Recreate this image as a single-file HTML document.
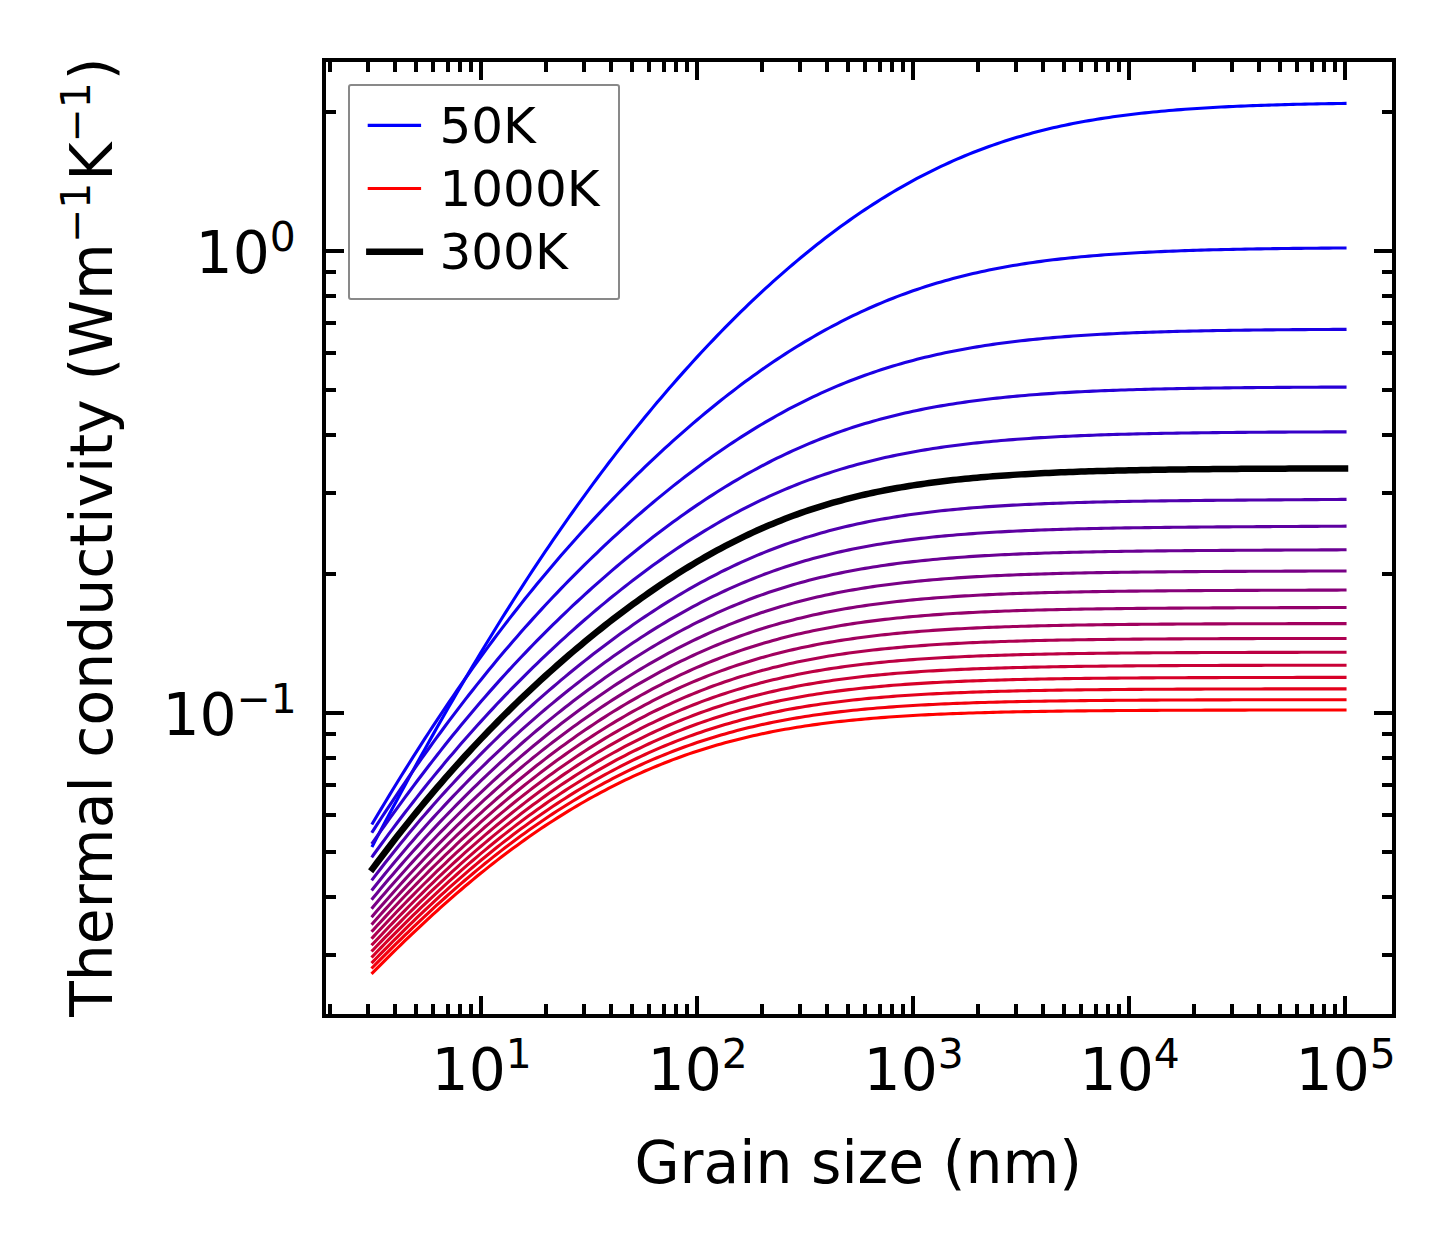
<!DOCTYPE html>
<html lang="en"><head><meta charset="utf-8"><title>Thermal conductivity vs grain size</title>
<style>html,body{margin:0;padding:0;background:#fff;overflow:hidden}svg{display:block}text{font-family:"DejaVu Sans", "Liberation Sans", sans-serif;fill:#000}</style></head><body>
<svg width="1454" height="1254" viewBox="0 0 1454 1254">
<rect x="0" y="0" width="1454" height="1254" fill="#fff"/>
<g fill="none" stroke-width="3.1" stroke-linecap="square" stroke-linejoin="round">
<path stroke="rgb(0,0,255)" d="M372.60 845.71 L373.00 844.95 L377.00 837.37 L381.00 829.81 L385.00 822.29 L389.00 814.80 L393.00 807.34 L397.00 799.92 L401.00 792.52 L405.00 785.16 L409.00 777.84 L413.00 770.55 L417.00 763.29 L421.00 756.07 L425.00 748.89 L429.00 741.74 L433.00 734.63 L437.00 727.55 L441.00 720.52 L445.00 713.52 L449.00 706.57 L453.00 699.65 L457.00 692.77 L461.00 685.93 L465.00 679.13 L469.00 672.37 L473.00 665.65 L477.00 658.98 L481.00 652.34 L485.00 645.75 L489.00 639.20 L493.00 632.69 L497.00 626.22 L501.00 619.79 L505.00 613.41 L509.00 607.07 L513.00 600.77 L517.00 594.52 L521.00 588.31 L525.00 582.14 L529.00 576.01 L533.00 569.93 L537.00 563.89 L541.00 557.90 L545.00 551.95 L549.00 546.04 L553.00 540.17 L557.00 534.35 L561.00 528.57 L565.00 522.83 L569.00 517.14 L573.00 511.49 L577.00 505.88 L581.00 500.32 L585.00 494.80 L589.00 489.32 L593.00 483.88 L597.00 478.49 L601.00 473.14 L605.00 467.83 L609.00 462.56 L613.00 457.34 L617.00 452.15 L621.00 447.01 L625.00 441.91 L629.00 436.86 L633.00 431.84 L637.00 426.87 L641.00 421.93 L645.00 417.04 L649.00 412.19 L653.00 407.38 L657.00 402.61 L661.00 397.88 L665.00 393.20 L669.00 388.55 L673.00 383.94 L677.00 379.38 L681.00 374.85 L685.00 370.36 L689.00 365.92 L693.00 361.51 L697.00 357.14 L701.00 352.82 L705.00 348.53 L709.00 344.28 L713.00 340.08 L717.00 335.91 L721.00 331.78 L725.00 327.69 L729.00 323.64 L733.00 319.63 L737.00 315.66 L741.00 311.73 L745.00 307.84 L749.00 303.98 L753.00 300.17 L757.00 296.40 L761.00 292.66 L765.00 288.97 L769.00 285.31 L773.00 281.70 L777.00 278.12 L781.00 274.59 L785.00 271.09 L789.00 267.63 L793.00 264.22 L797.00 260.84 L801.00 257.50 L805.00 254.21 L809.00 250.95 L813.00 247.73 L817.00 244.56 L821.00 241.42 L825.00 238.33 L829.00 235.27 L833.00 232.26 L837.00 229.29 L841.00 226.36 L845.00 223.47 L849.00 220.62 L853.00 217.81 L857.00 215.04 L861.00 212.31 L865.00 209.63 L869.00 206.98 L873.00 204.38 L877.00 201.82 L881.00 199.30 L885.00 196.82 L889.00 194.38 L893.00 191.99 L897.00 189.63 L901.00 187.32 L905.00 185.05 L909.00 182.81 L913.00 180.62 L917.00 178.47 L921.00 176.36 L925.00 174.29 L929.00 172.27 L933.00 170.28 L937.00 168.33 L941.00 166.42 L945.00 164.55 L949.00 162.72 L953.00 160.93 L957.00 159.18 L961.00 157.47 L965.00 155.79 L969.00 154.16 L973.00 152.56 L977.00 151.00 L981.00 149.47 L985.00 147.98 L989.00 146.53 L993.00 145.12 L997.00 143.73 L1001.00 142.39 L1005.00 141.08 L1009.00 139.80 L1013.00 138.56 L1017.00 137.35 L1021.00 136.17 L1025.00 135.02 L1029.00 133.91 L1033.00 132.82 L1037.00 131.77 L1041.00 130.75 L1045.00 129.75 L1049.00 128.79 L1053.00 127.85 L1057.00 126.94 L1061.00 126.06 L1065.00 125.21 L1069.00 124.38 L1073.00 123.58 L1077.00 122.80 L1081.00 122.05 L1085.00 121.32 L1089.00 120.61 L1093.00 119.93 L1097.00 119.27 L1101.00 118.63 L1105.00 118.01 L1109.00 117.42 L1113.00 116.84 L1117.00 116.28 L1121.00 115.74 L1125.00 115.22 L1129.00 114.72 L1133.00 114.23 L1137.00 113.77 L1141.00 113.32 L1145.00 112.88 L1149.00 112.46 L1153.00 112.06 L1157.00 111.67 L1161.00 111.29 L1165.00 110.93 L1169.00 110.58 L1173.00 110.24 L1177.00 109.92 L1181.00 109.61 L1185.00 109.31 L1189.00 109.02 L1193.00 108.74 L1197.00 108.47 L1201.00 108.22 L1205.00 107.97 L1209.00 107.73 L1213.00 107.50 L1217.00 107.28 L1221.00 107.07 L1225.00 106.86 L1229.00 106.67 L1233.00 106.48 L1237.00 106.30 L1241.00 106.13 L1245.00 105.96 L1249.00 105.80 L1253.00 105.64 L1257.00 105.50 L1261.00 105.35 L1265.00 105.22 L1269.00 105.09 L1273.00 104.96 L1277.00 104.84 L1281.00 104.72 L1285.00 104.61 L1289.00 104.51 L1293.00 104.40 L1297.00 104.31 L1301.00 104.21 L1305.00 104.12 L1309.00 104.03 L1313.00 103.95 L1317.00 103.87 L1321.00 103.79 L1325.00 103.72 L1329.00 103.65 L1333.00 103.58 L1337.00 103.51 L1341.00 103.45 L1345.00 103.39"/>
<path stroke="rgb(13,0,242)" d="M372.60 823.18 L373.00 822.50 L377.00 815.78 L381.00 809.09 L385.00 802.45 L389.00 795.85 L393.00 789.29 L397.00 782.77 L401.00 776.29 L405.00 769.86 L409.00 763.48 L413.00 757.13 L417.00 750.84 L421.00 744.59 L425.00 738.39 L429.00 732.23 L433.00 726.12 L437.00 720.06 L441.00 714.05 L445.00 708.09 L449.00 702.17 L453.00 696.30 L457.00 690.48 L461.00 684.71 L465.00 678.98 L469.00 673.31 L473.00 667.68 L477.00 662.10 L481.00 656.57 L485.00 651.09 L489.00 645.66 L493.00 640.27 L497.00 634.93 L501.00 629.63 L505.00 624.39 L509.00 619.18 L513.00 614.03 L517.00 608.92 L521.00 603.85 L525.00 598.83 L529.00 593.86 L533.00 588.92 L537.00 584.04 L541.00 579.19 L545.00 574.39 L549.00 569.63 L553.00 564.91 L557.00 560.23 L561.00 555.59 L565.00 550.99 L569.00 546.44 L573.00 541.92 L577.00 537.44 L581.00 533.00 L585.00 528.60 L589.00 524.24 L593.00 519.91 L597.00 515.62 L601.00 511.37 L605.00 507.16 L609.00 502.98 L613.00 498.84 L617.00 494.73 L621.00 490.66 L625.00 486.63 L629.00 482.63 L633.00 478.66 L637.00 474.73 L641.00 470.84 L645.00 466.98 L649.00 463.16 L653.00 459.37 L657.00 455.61 L661.00 451.89 L665.00 448.21 L669.00 444.56 L673.00 440.94 L677.00 437.36 L681.00 433.81 L685.00 430.30 L689.00 426.82 L693.00 423.38 L697.00 419.97 L701.00 416.60 L705.00 413.27 L709.00 409.96 L713.00 406.70 L717.00 403.47 L721.00 400.27 L725.00 397.12 L729.00 393.99 L733.00 390.91 L737.00 387.86 L741.00 384.84 L745.00 381.86 L749.00 378.92 L753.00 376.02 L757.00 373.15 L761.00 370.32 L765.00 367.53 L769.00 364.78 L773.00 362.06 L777.00 359.38 L781.00 356.74 L785.00 354.14 L789.00 351.57 L793.00 349.04 L797.00 346.55 L801.00 344.10 L805.00 341.69 L809.00 339.31 L813.00 336.97 L817.00 334.68 L821.00 332.42 L825.00 330.19 L829.00 328.01 L833.00 325.87 L837.00 323.76 L841.00 321.69 L845.00 319.66 L849.00 317.67 L853.00 315.71 L857.00 313.80 L861.00 311.92 L865.00 310.07 L869.00 308.27 L873.00 306.50 L877.00 304.77 L881.00 303.08 L885.00 301.42 L889.00 299.80 L893.00 298.22 L897.00 296.67 L901.00 295.16 L905.00 293.68 L909.00 292.23 L913.00 290.82 L917.00 289.45 L921.00 288.11 L925.00 286.80 L929.00 285.53 L933.00 284.29 L937.00 283.08 L941.00 281.90 L945.00 280.75 L949.00 279.64 L953.00 278.55 L957.00 277.49 L961.00 276.47 L965.00 275.47 L969.00 274.50 L973.00 273.56 L977.00 272.65 L981.00 271.76 L985.00 270.90 L989.00 270.07 L993.00 269.26 L997.00 268.48 L1001.00 267.72 L1005.00 266.98 L1009.00 266.27 L1013.00 265.58 L1017.00 264.91 L1021.00 264.27 L1025.00 263.64 L1029.00 263.04 L1033.00 262.46 L1037.00 261.89 L1041.00 261.35 L1045.00 260.82 L1049.00 260.31 L1053.00 259.82 L1057.00 259.34 L1061.00 258.89 L1065.00 258.45 L1069.00 258.02 L1073.00 257.61 L1077.00 257.21 L1081.00 256.83 L1085.00 256.46 L1089.00 256.11 L1093.00 255.77 L1097.00 255.44 L1101.00 255.12 L1105.00 254.82 L1109.00 254.52 L1113.00 254.24 L1117.00 253.97 L1121.00 253.70 L1125.00 253.45 L1129.00 253.21 L1133.00 252.98 L1137.00 252.75 L1141.00 252.54 L1145.00 252.33 L1149.00 252.13 L1153.00 251.94 L1157.00 251.75 L1161.00 251.58 L1165.00 251.41 L1169.00 251.24 L1173.00 251.09 L1177.00 250.93 L1181.00 250.79 L1185.00 250.65 L1189.00 250.52 L1193.00 250.39 L1197.00 250.26 L1201.00 250.15 L1205.00 250.03 L1209.00 249.92 L1213.00 249.82 L1217.00 249.72 L1221.00 249.62 L1225.00 249.53 L1229.00 249.44 L1233.00 249.36 L1237.00 249.27 L1241.00 249.19 L1245.00 249.12 L1249.00 249.05 L1253.00 248.98 L1257.00 248.91 L1261.00 248.85 L1265.00 248.79 L1269.00 248.73 L1273.00 248.67 L1277.00 248.62 L1281.00 248.57 L1285.00 248.52 L1289.00 248.47 L1293.00 248.42 L1297.00 248.38 L1301.00 248.34 L1305.00 248.30 L1309.00 248.26 L1313.00 248.22 L1317.00 248.19 L1321.00 248.15 L1325.00 248.12 L1329.00 248.09 L1333.00 248.06 L1337.00 248.03 L1341.00 248.00 L1345.00 247.97"/>
<path stroke="rgb(27,0,228)" d="M372.60 831.42 L373.00 830.80 L377.00 824.62 L381.00 818.48 L385.00 812.38 L389.00 806.32 L393.00 800.31 L397.00 794.34 L401.00 788.42 L405.00 782.54 L409.00 776.71 L413.00 770.92 L417.00 765.18 L421.00 759.48 L425.00 753.83 L429.00 748.23 L433.00 742.68 L437.00 737.17 L441.00 731.71 L445.00 726.29 L449.00 720.93 L453.00 715.60 L457.00 710.33 L461.00 705.10 L465.00 699.92 L469.00 694.79 L473.00 689.70 L477.00 684.65 L481.00 679.66 L485.00 674.70 L489.00 669.80 L493.00 664.93 L497.00 660.11 L501.00 655.34 L505.00 650.60 L509.00 645.91 L513.00 641.27 L517.00 636.66 L521.00 632.10 L525.00 627.58 L529.00 623.10 L533.00 618.66 L537.00 614.25 L541.00 609.89 L545.00 605.57 L549.00 601.29 L553.00 597.04 L557.00 592.83 L561.00 588.66 L565.00 584.53 L569.00 580.43 L573.00 576.38 L577.00 572.35 L581.00 568.36 L585.00 564.41 L589.00 560.50 L593.00 556.61 L597.00 552.77 L601.00 548.95 L605.00 545.18 L609.00 541.43 L613.00 537.72 L617.00 534.05 L621.00 530.41 L625.00 526.80 L629.00 523.23 L633.00 519.69 L637.00 516.18 L641.00 512.71 L645.00 509.27 L649.00 505.86 L653.00 502.49 L657.00 499.16 L661.00 495.85 L665.00 492.59 L669.00 489.35 L673.00 486.15 L677.00 482.99 L681.00 479.86 L685.00 476.76 L689.00 473.70 L693.00 470.67 L697.00 467.68 L701.00 464.73 L705.00 461.81 L709.00 458.93 L713.00 456.08 L717.00 453.27 L721.00 450.49 L725.00 447.75 L729.00 445.05 L733.00 442.39 L737.00 439.76 L741.00 437.17 L745.00 434.61 L749.00 432.09 L753.00 429.61 L757.00 427.17 L761.00 424.77 L765.00 422.40 L769.00 420.07 L773.00 417.78 L777.00 415.52 L781.00 413.31 L785.00 411.13 L789.00 408.98 L793.00 406.88 L797.00 404.81 L801.00 402.79 L805.00 400.79 L809.00 398.84 L813.00 396.92 L817.00 395.04 L821.00 393.20 L825.00 391.39 L829.00 389.62 L833.00 387.89 L837.00 386.19 L841.00 384.53 L845.00 382.90 L849.00 381.31 L853.00 379.76 L857.00 378.24 L861.00 376.75 L865.00 375.30 L869.00 373.88 L873.00 372.49 L877.00 371.14 L881.00 369.82 L885.00 368.54 L889.00 367.28 L893.00 366.06 L897.00 364.87 L901.00 363.70 L905.00 362.57 L909.00 361.47 L913.00 360.40 L917.00 359.36 L921.00 358.34 L925.00 357.36 L929.00 356.40 L933.00 355.46 L937.00 354.56 L941.00 353.68 L945.00 352.82 L949.00 351.99 L953.00 351.19 L957.00 350.41 L961.00 349.65 L965.00 348.92 L969.00 348.21 L973.00 347.52 L977.00 346.85 L981.00 346.20 L985.00 345.58 L989.00 344.97 L993.00 344.39 L997.00 343.82 L1001.00 343.27 L1005.00 342.74 L1009.00 342.23 L1013.00 341.73 L1017.00 341.25 L1021.00 340.79 L1025.00 340.34 L1029.00 339.91 L1033.00 339.49 L1037.00 339.09 L1041.00 338.70 L1045.00 338.33 L1049.00 337.97 L1053.00 337.62 L1057.00 337.28 L1061.00 336.96 L1065.00 336.65 L1069.00 336.35 L1073.00 336.06 L1077.00 335.78 L1081.00 335.51 L1085.00 335.25 L1089.00 335.01 L1093.00 334.77 L1097.00 334.54 L1101.00 334.31 L1105.00 334.10 L1109.00 333.89 L1113.00 333.70 L1117.00 333.51 L1121.00 333.32 L1125.00 333.15 L1129.00 332.98 L1133.00 332.82 L1137.00 332.66 L1141.00 332.51 L1145.00 332.37 L1149.00 332.23 L1153.00 332.10 L1157.00 331.97 L1161.00 331.85 L1165.00 331.73 L1169.00 331.61 L1173.00 331.51 L1177.00 331.40 L1181.00 331.30 L1185.00 331.20 L1189.00 331.11 L1193.00 331.02 L1197.00 330.94 L1201.00 330.86 L1205.00 330.78 L1209.00 330.70 L1213.00 330.63 L1217.00 330.56 L1221.00 330.49 L1225.00 330.43 L1229.00 330.37 L1233.00 330.31 L1237.00 330.25 L1241.00 330.20 L1245.00 330.15 L1249.00 330.10 L1253.00 330.05 L1257.00 330.01 L1261.00 329.96 L1265.00 329.92 L1269.00 329.88 L1273.00 329.84 L1277.00 329.80 L1281.00 329.77 L1285.00 329.73 L1289.00 329.70 L1293.00 329.67 L1297.00 329.64 L1301.00 329.61 L1305.00 329.58 L1309.00 329.56 L1313.00 329.53 L1317.00 329.51 L1321.00 329.48 L1325.00 329.46 L1329.00 329.44 L1333.00 329.42 L1337.00 329.40 L1341.00 329.38 L1345.00 329.36"/>
<path stroke="rgb(40,0,215)" d="M372.60 842.64 L373.00 842.06 L377.00 836.36 L381.00 830.70 L385.00 825.06 L389.00 819.46 L393.00 813.89 L397.00 808.36 L401.00 802.87 L405.00 797.41 L409.00 791.99 L413.00 786.61 L417.00 781.28 L421.00 775.98 L425.00 770.72 L429.00 765.50 L433.00 760.33 L437.00 755.20 L441.00 750.11 L445.00 745.06 L449.00 740.05 L453.00 735.09 L457.00 730.17 L461.00 725.30 L465.00 720.47 L469.00 715.68 L473.00 710.93 L477.00 706.23 L481.00 701.57 L485.00 696.96 L489.00 692.38 L493.00 687.85 L497.00 683.36 L501.00 678.91 L505.00 674.50 L509.00 670.13 L513.00 665.81 L517.00 661.52 L521.00 657.27 L525.00 653.07 L529.00 648.90 L533.00 644.77 L537.00 640.67 L541.00 636.62 L545.00 632.60 L549.00 628.62 L553.00 624.68 L557.00 620.77 L561.00 616.89 L565.00 613.06 L569.00 609.25 L573.00 605.48 L577.00 601.75 L581.00 598.05 L585.00 594.38 L589.00 590.75 L593.00 587.15 L597.00 583.58 L601.00 580.05 L605.00 576.55 L609.00 573.08 L613.00 569.65 L617.00 566.24 L621.00 562.87 L625.00 559.53 L629.00 556.23 L633.00 552.96 L637.00 549.72 L641.00 546.51 L645.00 543.34 L649.00 540.20 L653.00 537.09 L657.00 534.01 L661.00 530.97 L665.00 527.97 L669.00 524.99 L673.00 522.05 L677.00 519.15 L681.00 516.28 L685.00 513.44 L689.00 510.64 L693.00 507.87 L697.00 505.14 L701.00 502.45 L705.00 499.79 L709.00 497.17 L713.00 494.58 L717.00 492.03 L721.00 489.51 L725.00 487.04 L729.00 484.60 L733.00 482.19 L737.00 479.83 L741.00 477.50 L745.00 475.21 L749.00 472.95 L753.00 470.74 L757.00 468.56 L761.00 466.42 L765.00 464.31 L769.00 462.25 L773.00 460.22 L777.00 458.23 L781.00 456.28 L785.00 454.36 L789.00 452.48 L793.00 450.64 L797.00 448.84 L801.00 447.07 L805.00 445.34 L809.00 443.64 L813.00 441.99 L817.00 440.36 L821.00 438.78 L825.00 437.23 L829.00 435.71 L833.00 434.23 L837.00 432.78 L841.00 431.37 L845.00 429.99 L849.00 428.65 L853.00 427.33 L857.00 426.06 L861.00 424.81 L865.00 423.59 L869.00 422.41 L873.00 421.25 L877.00 420.13 L881.00 419.04 L885.00 417.97 L889.00 416.94 L893.00 415.93 L897.00 414.95 L901.00 414.00 L905.00 413.08 L909.00 412.18 L913.00 411.31 L917.00 410.47 L921.00 409.64 L925.00 408.85 L929.00 408.08 L933.00 407.33 L937.00 406.60 L941.00 405.90 L945.00 405.21 L949.00 404.55 L953.00 403.91 L957.00 403.29 L961.00 402.69 L965.00 402.11 L969.00 401.55 L973.00 401.01 L977.00 400.48 L981.00 399.98 L985.00 399.49 L989.00 399.01 L993.00 398.55 L997.00 398.11 L1001.00 397.68 L1005.00 397.27 L1009.00 396.87 L1013.00 396.49 L1017.00 396.12 L1021.00 395.76 L1025.00 395.42 L1029.00 395.08 L1033.00 394.76 L1037.00 394.45 L1041.00 394.16 L1045.00 393.87 L1049.00 393.59 L1053.00 393.33 L1057.00 393.07 L1061.00 392.82 L1065.00 392.58 L1069.00 392.35 L1073.00 392.13 L1077.00 391.92 L1081.00 391.72 L1085.00 391.52 L1089.00 391.33 L1093.00 391.15 L1097.00 390.97 L1101.00 390.81 L1105.00 390.64 L1109.00 390.49 L1113.00 390.34 L1117.00 390.20 L1121.00 390.06 L1125.00 389.93 L1129.00 389.80 L1133.00 389.68 L1137.00 389.56 L1141.00 389.44 L1145.00 389.34 L1149.00 389.23 L1153.00 389.13 L1157.00 389.04 L1161.00 388.94 L1165.00 388.85 L1169.00 388.77 L1173.00 388.69 L1177.00 388.61 L1181.00 388.53 L1185.00 388.46 L1189.00 388.39 L1193.00 388.33 L1197.00 388.26 L1201.00 388.20 L1205.00 388.14 L1209.00 388.08 L1213.00 388.03 L1217.00 387.98 L1221.00 387.93 L1225.00 387.88 L1229.00 387.83 L1233.00 387.79 L1237.00 387.75 L1241.00 387.71 L1245.00 387.67 L1249.00 387.63 L1253.00 387.60 L1257.00 387.56 L1261.00 387.53 L1265.00 387.50 L1269.00 387.47 L1273.00 387.44 L1277.00 387.41 L1281.00 387.38 L1285.00 387.36 L1289.00 387.33 L1293.00 387.31 L1297.00 387.29 L1301.00 387.27 L1305.00 387.25 L1309.00 387.23 L1313.00 387.21 L1317.00 387.19 L1321.00 387.17 L1325.00 387.15 L1329.00 387.14 L1333.00 387.12 L1337.00 387.11 L1341.00 387.09 L1345.00 387.08"/>
<path stroke="rgb(54,0,201)" d="M372.60 856.06 L373.00 855.51 L377.00 849.99 L381.00 844.52 L385.00 839.09 L389.00 833.69 L393.00 828.34 L397.00 823.03 L401.00 817.76 L405.00 812.53 L409.00 807.34 L413.00 802.20 L417.00 797.10 L421.00 792.04 L425.00 787.03 L429.00 782.06 L433.00 777.13 L437.00 772.25 L441.00 767.41 L445.00 762.61 L449.00 757.86 L453.00 753.15 L457.00 748.48 L461.00 743.85 L465.00 739.26 L469.00 734.72 L473.00 730.22 L477.00 725.76 L481.00 721.34 L485.00 716.96 L489.00 712.62 L493.00 708.32 L497.00 704.06 L501.00 699.84 L505.00 695.65 L509.00 691.51 L513.00 687.40 L517.00 683.33 L521.00 679.30 L525.00 675.30 L529.00 671.34 L533.00 667.42 L537.00 663.53 L541.00 659.68 L545.00 655.86 L549.00 652.07 L553.00 648.32 L557.00 644.61 L561.00 640.92 L565.00 637.27 L569.00 633.66 L573.00 630.08 L577.00 626.53 L581.00 623.01 L585.00 619.53 L589.00 616.08 L593.00 612.66 L597.00 609.28 L601.00 605.92 L605.00 602.61 L609.00 599.32 L613.00 596.06 L617.00 592.84 L621.00 589.66 L625.00 586.50 L629.00 583.38 L633.00 580.29 L637.00 577.24 L641.00 574.22 L645.00 571.23 L649.00 568.28 L653.00 565.36 L657.00 562.47 L661.00 559.62 L665.00 556.81 L669.00 554.03 L673.00 551.29 L677.00 548.58 L681.00 545.90 L685.00 543.27 L689.00 540.67 L693.00 538.10 L697.00 535.57 L701.00 533.08 L705.00 530.63 L709.00 528.21 L713.00 525.83 L717.00 523.49 L721.00 521.18 L725.00 518.91 L729.00 516.68 L733.00 514.49 L737.00 512.33 L741.00 510.21 L745.00 508.13 L749.00 506.09 L753.00 504.08 L757.00 502.12 L761.00 500.19 L765.00 498.29 L769.00 496.44 L773.00 494.62 L777.00 492.83 L781.00 491.09 L785.00 489.38 L789.00 487.71 L793.00 486.07 L797.00 484.47 L801.00 482.90 L805.00 481.37 L809.00 479.88 L813.00 478.42 L817.00 476.99 L821.00 475.60 L825.00 474.24 L829.00 472.92 L833.00 471.62 L837.00 470.36 L841.00 469.13 L845.00 467.94 L849.00 466.77 L853.00 465.64 L857.00 464.53 L861.00 463.46 L865.00 462.41 L869.00 461.39 L873.00 460.40 L877.00 459.44 L881.00 458.51 L885.00 457.60 L889.00 456.72 L893.00 455.86 L897.00 455.03 L901.00 454.22 L905.00 453.44 L909.00 452.68 L913.00 451.94 L917.00 451.23 L921.00 450.54 L925.00 449.87 L929.00 449.22 L933.00 448.59 L937.00 447.98 L941.00 447.39 L945.00 446.82 L949.00 446.27 L953.00 445.74 L957.00 445.22 L961.00 444.72 L965.00 444.24 L969.00 443.78 L973.00 443.33 L977.00 442.89 L981.00 442.47 L985.00 442.06 L989.00 441.67 L993.00 441.29 L997.00 440.93 L1001.00 440.57 L1005.00 440.23 L1009.00 439.91 L1013.00 439.59 L1017.00 439.28 L1021.00 438.99 L1025.00 438.70 L1029.00 438.43 L1033.00 438.17 L1037.00 437.91 L1041.00 437.67 L1045.00 437.43 L1049.00 437.20 L1053.00 436.99 L1057.00 436.77 L1061.00 436.57 L1065.00 436.38 L1069.00 436.19 L1073.00 436.01 L1077.00 435.83 L1081.00 435.67 L1085.00 435.50 L1089.00 435.35 L1093.00 435.20 L1097.00 435.06 L1101.00 434.92 L1105.00 434.79 L1109.00 434.66 L1113.00 434.54 L1117.00 434.42 L1121.00 434.30 L1125.00 434.19 L1129.00 434.09 L1133.00 433.99 L1137.00 433.89 L1141.00 433.80 L1145.00 433.71 L1149.00 433.63 L1153.00 433.54 L1157.00 433.46 L1161.00 433.39 L1165.00 433.32 L1169.00 433.25 L1173.00 433.18 L1177.00 433.11 L1181.00 433.05 L1185.00 432.99 L1189.00 432.94 L1193.00 432.88 L1197.00 432.83 L1201.00 432.78 L1205.00 432.73 L1209.00 432.68 L1213.00 432.64 L1217.00 432.60 L1221.00 432.55 L1225.00 432.51 L1229.00 432.48 L1233.00 432.44 L1237.00 432.41 L1241.00 432.37 L1245.00 432.34 L1249.00 432.31 L1253.00 432.28 L1257.00 432.25 L1261.00 432.23 L1265.00 432.20 L1269.00 432.17 L1273.00 432.15 L1277.00 432.13 L1281.00 432.11 L1285.00 432.08 L1289.00 432.06 L1293.00 432.04 L1297.00 432.03 L1301.00 432.01 L1305.00 431.99 L1309.00 431.98 L1313.00 431.96 L1317.00 431.94 L1321.00 431.93 L1325.00 431.92 L1329.00 431.90 L1333.00 431.89 L1337.00 431.88 L1341.00 431.87 L1345.00 431.86"/>
<path stroke="rgb(67,0,188)" d="M372.60 868.64 L373.00 868.11 L377.00 862.75 L381.00 857.44 L385.00 852.17 L389.00 846.94 L393.00 841.76 L397.00 836.62 L401.00 831.53 L405.00 826.48 L409.00 821.48 L413.00 816.52 L417.00 811.61 L421.00 806.74 L425.00 801.91 L429.00 797.13 L433.00 792.40 L437.00 787.70 L441.00 783.05 L445.00 778.45 L449.00 773.89 L453.00 769.37 L457.00 764.89 L461.00 760.45 L465.00 756.06 L469.00 751.71 L473.00 747.39 L477.00 743.12 L481.00 738.89 L485.00 734.70 L489.00 730.54 L493.00 726.43 L497.00 722.35 L501.00 718.32 L505.00 714.31 L509.00 710.35 L513.00 706.42 L517.00 702.53 L521.00 698.68 L525.00 694.85 L529.00 691.07 L533.00 687.32 L537.00 683.60 L541.00 679.92 L545.00 676.27 L549.00 672.65 L553.00 669.07 L557.00 665.52 L561.00 662.00 L565.00 658.51 L569.00 655.06 L573.00 651.64 L577.00 648.25 L581.00 644.89 L585.00 641.57 L589.00 638.28 L593.00 635.01 L597.00 631.79 L601.00 628.59 L605.00 625.42 L609.00 622.29 L613.00 619.19 L617.00 616.12 L621.00 613.08 L625.00 610.08 L629.00 607.11 L633.00 604.17 L637.00 601.27 L641.00 598.39 L645.00 595.56 L649.00 592.75 L653.00 589.98 L657.00 587.25 L661.00 584.55 L665.00 581.88 L669.00 579.25 L673.00 576.65 L677.00 574.09 L681.00 571.56 L685.00 569.08 L689.00 566.62 L693.00 564.20 L697.00 561.82 L701.00 559.48 L705.00 557.17 L709.00 554.90 L713.00 552.67 L717.00 550.47 L721.00 548.31 L725.00 546.19 L729.00 544.11 L733.00 542.06 L737.00 540.05 L741.00 538.08 L745.00 536.15 L749.00 534.25 L753.00 532.39 L757.00 530.57 L761.00 528.78 L765.00 527.03 L769.00 525.32 L773.00 523.65 L777.00 522.01 L781.00 520.41 L785.00 518.84 L789.00 517.31 L793.00 515.81 L797.00 514.35 L801.00 512.93 L805.00 511.54 L809.00 510.18 L813.00 508.86 L817.00 507.57 L821.00 506.31 L825.00 505.09 L829.00 503.90 L833.00 502.74 L837.00 501.61 L841.00 500.51 L845.00 499.44 L849.00 498.40 L853.00 497.39 L857.00 496.41 L861.00 495.46 L865.00 494.53 L869.00 493.64 L873.00 492.76 L877.00 491.92 L881.00 491.10 L885.00 490.30 L889.00 489.53 L893.00 488.79 L897.00 488.06 L901.00 487.36 L905.00 486.68 L909.00 486.02 L913.00 485.39 L917.00 484.77 L921.00 484.18 L925.00 483.60 L929.00 483.04 L933.00 482.50 L937.00 481.98 L941.00 481.48 L945.00 480.99 L949.00 480.52 L953.00 480.07 L957.00 479.63 L961.00 479.21 L965.00 478.80 L969.00 478.40 L973.00 478.02 L977.00 477.65 L981.00 477.30 L985.00 476.96 L989.00 476.63 L993.00 476.31 L997.00 476.00 L1001.00 475.70 L1005.00 475.42 L1009.00 475.14 L1013.00 474.88 L1017.00 474.62 L1021.00 474.38 L1025.00 474.14 L1029.00 473.91 L1033.00 473.69 L1037.00 473.48 L1041.00 473.27 L1045.00 473.08 L1049.00 472.89 L1053.00 472.71 L1057.00 472.53 L1061.00 472.36 L1065.00 472.20 L1069.00 472.04 L1073.00 471.89 L1077.00 471.75 L1081.00 471.61 L1085.00 471.47 L1089.00 471.34 L1093.00 471.22 L1097.00 471.10 L1101.00 470.99 L1105.00 470.88 L1109.00 470.77 L1113.00 470.67 L1117.00 470.57 L1121.00 470.48 L1125.00 470.39 L1129.00 470.30 L1133.00 470.22 L1137.00 470.14 L1141.00 470.06 L1145.00 469.98 L1149.00 469.91 L1153.00 469.84 L1157.00 469.78 L1161.00 469.72 L1165.00 469.65 L1169.00 469.60 L1173.00 469.54 L1177.00 469.49 L1181.00 469.44 L1185.00 469.39 L1189.00 469.34 L1193.00 469.29 L1197.00 469.25 L1201.00 469.21 L1205.00 469.17 L1209.00 469.13 L1213.00 469.09 L1217.00 469.06 L1221.00 469.02 L1225.00 468.99 L1229.00 468.96 L1233.00 468.93 L1237.00 468.90 L1241.00 468.87 L1245.00 468.84 L1249.00 468.82 L1253.00 468.79 L1257.00 468.77 L1261.00 468.75 L1265.00 468.73 L1269.00 468.70 L1273.00 468.68 L1277.00 468.67 L1281.00 468.65 L1285.00 468.63 L1289.00 468.61 L1293.00 468.60 L1297.00 468.58 L1301.00 468.57 L1305.00 468.55 L1309.00 468.54 L1313.00 468.53 L1317.00 468.51 L1321.00 468.50 L1325.00 468.49 L1329.00 468.48 L1333.00 468.47 L1337.00 468.46 L1341.00 468.45 L1345.00 468.44"/>
<path stroke="rgb(81,0,174)" d="M372.60 879.13 L373.00 878.60 L377.00 873.37 L381.00 868.19 L385.00 863.06 L389.00 857.98 L393.00 852.95 L397.00 847.97 L401.00 843.04 L405.00 838.16 L409.00 833.32 L413.00 828.54 L417.00 823.80 L421.00 819.11 L425.00 814.46 L429.00 809.86 L433.00 805.30 L437.00 800.79 L441.00 796.33 L445.00 791.90 L449.00 787.52 L453.00 783.18 L457.00 778.89 L461.00 774.63 L465.00 770.42 L469.00 766.24 L473.00 762.11 L477.00 758.01 L481.00 753.96 L485.00 749.94 L489.00 745.95 L493.00 742.01 L497.00 738.10 L501.00 734.23 L505.00 730.39 L509.00 726.59 L513.00 722.82 L517.00 719.08 L521.00 715.38 L525.00 711.72 L529.00 708.09 L533.00 704.49 L537.00 700.92 L541.00 697.38 L545.00 693.88 L549.00 690.41 L553.00 686.97 L557.00 683.57 L561.00 680.19 L565.00 676.85 L569.00 673.54 L573.00 670.26 L577.00 667.01 L581.00 663.79 L585.00 660.60 L589.00 657.45 L593.00 654.32 L597.00 651.23 L601.00 648.17 L605.00 645.14 L609.00 642.14 L613.00 639.18 L617.00 636.25 L621.00 633.35 L625.00 630.48 L629.00 627.65 L633.00 624.85 L637.00 622.08 L641.00 619.34 L645.00 616.64 L649.00 613.97 L653.00 611.34 L657.00 608.74 L661.00 606.18 L665.00 603.65 L669.00 601.15 L673.00 598.70 L677.00 596.27 L681.00 593.88 L685.00 591.53 L689.00 589.21 L693.00 586.93 L697.00 584.69 L701.00 582.48 L705.00 580.31 L709.00 578.18 L713.00 576.08 L717.00 574.02 L721.00 571.99 L725.00 570.01 L729.00 568.05 L733.00 566.14 L737.00 564.26 L741.00 562.42 L745.00 560.62 L749.00 558.85 L753.00 557.12 L757.00 555.43 L761.00 553.77 L765.00 552.15 L769.00 550.56 L773.00 549.01 L777.00 547.49 L781.00 546.01 L785.00 544.57 L789.00 543.16 L793.00 541.78 L797.00 540.44 L801.00 539.13 L805.00 537.85 L809.00 536.61 L813.00 535.40 L817.00 534.22 L821.00 533.07 L825.00 531.96 L829.00 530.87 L833.00 529.81 L837.00 528.79 L841.00 527.79 L845.00 526.82 L849.00 525.88 L853.00 524.97 L857.00 524.09 L861.00 523.23 L865.00 522.39 L869.00 521.59 L873.00 520.81 L877.00 520.05 L881.00 519.31 L885.00 518.60 L889.00 517.92 L893.00 517.25 L897.00 516.61 L901.00 515.99 L905.00 515.39 L909.00 514.80 L913.00 514.24 L917.00 513.70 L921.00 513.18 L925.00 512.67 L929.00 512.18 L933.00 511.71 L937.00 511.26 L941.00 510.82 L945.00 510.39 L949.00 509.99 L953.00 509.59 L957.00 509.21 L961.00 508.85 L965.00 508.50 L969.00 508.16 L973.00 507.83 L977.00 507.52 L981.00 507.21 L985.00 506.92 L989.00 506.64 L993.00 506.37 L997.00 506.11 L1001.00 505.86 L1005.00 505.62 L1009.00 505.39 L1013.00 505.17 L1017.00 504.95 L1021.00 504.75 L1025.00 504.55 L1029.00 504.36 L1033.00 504.18 L1037.00 504.00 L1041.00 503.83 L1045.00 503.67 L1049.00 503.51 L1053.00 503.36 L1057.00 503.22 L1061.00 503.08 L1065.00 502.94 L1069.00 502.82 L1073.00 502.69 L1077.00 502.57 L1081.00 502.46 L1085.00 502.35 L1089.00 502.25 L1093.00 502.14 L1097.00 502.05 L1101.00 501.95 L1105.00 501.86 L1109.00 501.78 L1113.00 501.69 L1117.00 501.61 L1121.00 501.54 L1125.00 501.46 L1129.00 501.39 L1133.00 501.32 L1137.00 501.26 L1141.00 501.19 L1145.00 501.13 L1149.00 501.07 L1153.00 501.01 L1157.00 500.96 L1161.00 500.91 L1165.00 500.85 L1169.00 500.80 L1173.00 500.76 L1177.00 500.71 L1181.00 500.66 L1185.00 500.62 L1189.00 500.58 L1193.00 500.54 L1197.00 500.50 L1201.00 500.46 L1205.00 500.42 L1209.00 500.39 L1213.00 500.35 L1217.00 500.31 L1221.00 500.28 L1225.00 500.25 L1229.00 500.22 L1233.00 500.18 L1237.00 500.15 L1241.00 500.12 L1245.00 500.09 L1249.00 500.06 L1253.00 500.03 L1257.00 500.00 L1261.00 499.97 L1265.00 499.95 L1269.00 499.92 L1273.00 499.89 L1277.00 499.86 L1281.00 499.83 L1285.00 499.81 L1289.00 499.78 L1293.00 499.75 L1297.00 499.72 L1301.00 499.69 L1305.00 499.67 L1309.00 499.64 L1313.00 499.61 L1317.00 499.58 L1321.00 499.55 L1325.00 499.52 L1329.00 499.49 L1333.00 499.46 L1337.00 499.43 L1341.00 499.40 L1345.00 499.37"/>
<path stroke="rgb(94,0,161)" d="M372.60 889.31 L373.00 888.80 L377.00 883.75 L381.00 878.75 L385.00 873.80 L389.00 868.89 L393.00 864.03 L397.00 859.22 L401.00 854.45 L405.00 849.73 L409.00 845.05 L413.00 840.42 L417.00 835.83 L421.00 831.28 L425.00 826.78 L429.00 822.32 L433.00 817.90 L437.00 813.52 L441.00 809.19 L445.00 804.89 L449.00 800.64 L453.00 796.42 L457.00 792.25 L461.00 788.11 L465.00 784.01 L469.00 779.95 L473.00 775.93 L477.00 771.94 L481.00 767.99 L485.00 764.08 L489.00 760.21 L493.00 756.37 L497.00 752.56 L501.00 748.79 L505.00 745.05 L509.00 741.35 L513.00 737.68 L517.00 734.05 L521.00 730.45 L525.00 726.88 L529.00 723.35 L533.00 719.85 L537.00 716.38 L541.00 712.94 L545.00 709.54 L549.00 706.17 L553.00 702.83 L557.00 699.52 L561.00 696.24 L565.00 693.00 L569.00 689.79 L573.00 686.61 L577.00 683.46 L581.00 680.35 L585.00 677.26 L589.00 674.21 L593.00 671.20 L597.00 668.21 L601.00 665.26 L605.00 662.34 L609.00 659.45 L613.00 656.59 L617.00 653.77 L621.00 650.98 L625.00 648.23 L629.00 645.51 L633.00 642.82 L637.00 640.17 L641.00 637.55 L645.00 634.96 L649.00 632.41 L653.00 629.90 L657.00 627.42 L661.00 624.97 L665.00 622.56 L669.00 620.19 L673.00 617.85 L677.00 615.55 L681.00 613.28 L685.00 611.05 L689.00 608.86 L693.00 606.70 L697.00 604.58 L701.00 602.49 L705.00 600.44 L709.00 598.43 L713.00 596.46 L717.00 594.52 L721.00 592.62 L725.00 590.75 L729.00 588.92 L733.00 587.13 L737.00 585.37 L741.00 583.65 L745.00 581.96 L749.00 580.31 L753.00 578.70 L757.00 577.12 L761.00 575.58 L765.00 574.07 L769.00 572.60 L773.00 571.16 L777.00 569.76 L781.00 568.39 L785.00 567.05 L789.00 565.74 L793.00 564.47 L797.00 563.24 L801.00 562.03 L805.00 560.85 L809.00 559.71 L813.00 558.60 L817.00 557.52 L821.00 556.46 L825.00 555.44 L829.00 554.45 L833.00 553.48 L837.00 552.54 L841.00 551.63 L845.00 550.75 L849.00 549.89 L853.00 549.06 L857.00 548.26 L861.00 547.48 L865.00 546.72 L869.00 545.99 L873.00 545.28 L877.00 544.59 L881.00 543.93 L885.00 543.28 L889.00 542.66 L893.00 542.06 L897.00 541.48 L901.00 540.92 L905.00 540.37 L909.00 539.85 L913.00 539.34 L917.00 538.86 L921.00 538.38 L925.00 537.93 L929.00 537.49 L933.00 537.07 L937.00 536.66 L941.00 536.26 L945.00 535.88 L949.00 535.52 L953.00 535.17 L957.00 534.83 L961.00 534.50 L965.00 534.18 L969.00 533.88 L973.00 533.59 L977.00 533.31 L981.00 533.04 L985.00 532.78 L989.00 532.53 L993.00 532.28 L997.00 532.05 L1001.00 531.83 L1005.00 531.61 L1009.00 531.41 L1013.00 531.21 L1017.00 531.02 L1021.00 530.84 L1025.00 530.66 L1029.00 530.49 L1033.00 530.33 L1037.00 530.17 L1041.00 530.02 L1045.00 529.88 L1049.00 529.74 L1053.00 529.60 L1057.00 529.48 L1061.00 529.35 L1065.00 529.23 L1069.00 529.12 L1073.00 529.01 L1077.00 528.91 L1081.00 528.80 L1085.00 528.71 L1089.00 528.61 L1093.00 528.52 L1097.00 528.44 L1101.00 528.36 L1105.00 528.28 L1109.00 528.20 L1113.00 528.13 L1117.00 528.06 L1121.00 527.99 L1125.00 527.92 L1129.00 527.86 L1133.00 527.80 L1137.00 527.74 L1141.00 527.69 L1145.00 527.63 L1149.00 527.58 L1153.00 527.53 L1157.00 527.48 L1161.00 527.43 L1165.00 527.39 L1169.00 527.35 L1173.00 527.30 L1177.00 527.26 L1181.00 527.22 L1185.00 527.19 L1189.00 527.15 L1193.00 527.12 L1197.00 527.08 L1201.00 527.05 L1205.00 527.02 L1209.00 526.98 L1213.00 526.95 L1217.00 526.92 L1221.00 526.90 L1225.00 526.87 L1229.00 526.84 L1233.00 526.81 L1237.00 526.79 L1241.00 526.76 L1245.00 526.74 L1249.00 526.71 L1253.00 526.69 L1257.00 526.66 L1261.00 526.64 L1265.00 526.62 L1269.00 526.59 L1273.00 526.57 L1277.00 526.55 L1281.00 526.53 L1285.00 526.50 L1289.00 526.48 L1293.00 526.46 L1297.00 526.44 L1301.00 526.42 L1305.00 526.39 L1309.00 526.37 L1313.00 526.35 L1317.00 526.33 L1321.00 526.30 L1325.00 526.28 L1329.00 526.26 L1333.00 526.24 L1337.00 526.21 L1341.00 526.19 L1345.00 526.17"/>
<path stroke="rgb(107,0,148)" d="M372.60 898.49 L373.00 898.00 L377.00 893.15 L381.00 888.34 L385.00 883.57 L389.00 878.84 L393.00 874.15 L397.00 869.50 L401.00 864.89 L405.00 860.32 L409.00 855.78 L413.00 851.29 L417.00 846.84 L421.00 842.42 L425.00 838.04 L429.00 833.70 L433.00 829.40 L437.00 825.14 L441.00 820.92 L445.00 816.73 L449.00 812.58 L453.00 808.47 L457.00 804.39 L461.00 800.35 L465.00 796.35 L469.00 792.39 L473.00 788.46 L477.00 784.56 L481.00 780.70 L485.00 776.88 L489.00 773.09 L493.00 769.34 L497.00 765.62 L501.00 761.93 L505.00 758.28 L509.00 754.67 L513.00 751.08 L517.00 747.54 L521.00 744.02 L525.00 740.54 L529.00 737.09 L533.00 733.67 L537.00 730.29 L541.00 726.94 L545.00 723.62 L549.00 720.34 L553.00 717.09 L557.00 713.87 L561.00 710.69 L565.00 707.53 L569.00 704.41 L573.00 701.32 L577.00 698.27 L581.00 695.25 L585.00 692.26 L589.00 689.30 L593.00 686.38 L597.00 683.49 L601.00 680.64 L605.00 677.82 L609.00 675.03 L613.00 672.27 L617.00 669.55 L621.00 666.86 L625.00 664.21 L629.00 661.59 L633.00 659.01 L637.00 656.46 L641.00 653.95 L645.00 651.47 L649.00 649.02 L653.00 646.61 L657.00 644.24 L661.00 641.90 L665.00 639.60 L669.00 637.33 L673.00 635.10 L677.00 632.91 L681.00 630.75 L685.00 628.62 L689.00 626.54 L693.00 624.49 L697.00 622.47 L701.00 620.49 L705.00 618.55 L709.00 616.65 L713.00 614.78 L717.00 612.94 L721.00 611.15 L725.00 609.39 L729.00 607.66 L733.00 605.97 L737.00 604.32 L741.00 602.70 L745.00 601.11 L749.00 599.57 L753.00 598.05 L757.00 596.57 L761.00 595.13 L765.00 593.72 L769.00 592.34 L773.00 591.00 L777.00 589.69 L781.00 588.41 L785.00 587.16 L789.00 585.95 L793.00 584.77 L797.00 583.62 L801.00 582.50 L805.00 581.41 L809.00 580.35 L813.00 579.31 L817.00 578.31 L821.00 577.34 L825.00 576.39 L829.00 575.48 L833.00 574.59 L837.00 573.72 L841.00 572.88 L845.00 572.07 L849.00 571.28 L853.00 570.52 L857.00 569.78 L861.00 569.06 L865.00 568.37 L869.00 567.70 L873.00 567.05 L877.00 566.42 L881.00 565.81 L885.00 565.22 L889.00 564.65 L893.00 564.10 L897.00 563.57 L901.00 563.06 L905.00 562.57 L909.00 562.09 L913.00 561.63 L917.00 561.18 L921.00 560.76 L925.00 560.34 L929.00 559.94 L933.00 559.56 L937.00 559.19 L941.00 558.83 L945.00 558.49 L949.00 558.15 L953.00 557.83 L957.00 557.53 L961.00 557.23 L965.00 556.95 L969.00 556.67 L973.00 556.41 L977.00 556.15 L981.00 555.91 L985.00 555.67 L989.00 555.45 L993.00 555.23 L997.00 555.02 L1001.00 554.82 L1005.00 554.63 L1009.00 554.44 L1013.00 554.26 L1017.00 554.09 L1021.00 553.92 L1025.00 553.77 L1029.00 553.61 L1033.00 553.47 L1037.00 553.33 L1041.00 553.19 L1045.00 553.06 L1049.00 552.94 L1053.00 552.82 L1057.00 552.70 L1061.00 552.59 L1065.00 552.48 L1069.00 552.38 L1073.00 552.28 L1077.00 552.19 L1081.00 552.10 L1085.00 552.01 L1089.00 551.93 L1093.00 551.85 L1097.00 551.77 L1101.00 551.70 L1105.00 551.63 L1109.00 551.56 L1113.00 551.49 L1117.00 551.43 L1121.00 551.37 L1125.00 551.31 L1129.00 551.25 L1133.00 551.20 L1137.00 551.15 L1141.00 551.10 L1145.00 551.05 L1149.00 551.00 L1153.00 550.96 L1157.00 550.92 L1161.00 550.88 L1165.00 550.84 L1169.00 550.80 L1173.00 550.76 L1177.00 550.72 L1181.00 550.69 L1185.00 550.66 L1189.00 550.63 L1193.00 550.59 L1197.00 550.56 L1201.00 550.53 L1205.00 550.51 L1209.00 550.48 L1213.00 550.45 L1217.00 550.43 L1221.00 550.40 L1225.00 550.38 L1229.00 550.35 L1233.00 550.33 L1237.00 550.31 L1241.00 550.29 L1245.00 550.27 L1249.00 550.24 L1253.00 550.22 L1257.00 550.20 L1261.00 550.18 L1265.00 550.16 L1269.00 550.15 L1273.00 550.13 L1277.00 550.11 L1281.00 550.09 L1285.00 550.07 L1289.00 550.05 L1293.00 550.03 L1297.00 550.02 L1301.00 550.00 L1305.00 549.98 L1309.00 549.96 L1313.00 549.94 L1317.00 549.93 L1321.00 549.91 L1325.00 549.89 L1329.00 549.87 L1333.00 549.85 L1337.00 549.84 L1341.00 549.82 L1345.00 549.80"/>
<path stroke="rgb(121,0,134)" d="M372.60 907.48 L373.00 907.00 L377.00 902.27 L381.00 897.58 L385.00 892.93 L389.00 888.31 L393.00 883.73 L397.00 879.18 L401.00 874.68 L405.00 870.21 L409.00 865.78 L413.00 861.38 L417.00 857.03 L421.00 852.71 L425.00 848.42 L429.00 844.18 L433.00 839.97 L437.00 835.80 L441.00 831.66 L445.00 827.56 L449.00 823.50 L453.00 819.47 L457.00 815.48 L461.00 811.52 L465.00 807.60 L469.00 803.72 L473.00 799.87 L477.00 796.05 L481.00 792.27 L485.00 788.53 L489.00 784.82 L493.00 781.14 L497.00 777.50 L501.00 773.90 L505.00 770.32 L509.00 766.79 L513.00 763.28 L517.00 759.81 L521.00 756.37 L525.00 752.97 L529.00 749.60 L533.00 746.26 L537.00 742.96 L541.00 739.69 L545.00 736.45 L549.00 733.25 L553.00 730.08 L557.00 726.94 L561.00 723.84 L565.00 720.77 L569.00 717.73 L573.00 714.73 L577.00 711.76 L581.00 708.82 L585.00 705.92 L589.00 703.05 L593.00 700.22 L597.00 697.42 L601.00 694.65 L605.00 691.92 L609.00 689.22 L613.00 686.55 L617.00 683.92 L621.00 681.33 L625.00 678.77 L629.00 676.24 L633.00 673.75 L637.00 671.30 L641.00 668.88 L645.00 666.49 L649.00 664.14 L653.00 661.83 L657.00 659.55 L661.00 657.31 L665.00 655.10 L669.00 652.93 L673.00 650.79 L677.00 648.69 L681.00 646.63 L685.00 644.60 L689.00 642.61 L693.00 640.66 L697.00 638.74 L701.00 636.86 L705.00 635.01 L709.00 633.20 L713.00 631.42 L717.00 629.68 L721.00 627.98 L725.00 626.31 L729.00 624.67 L733.00 623.07 L737.00 621.51 L741.00 619.98 L745.00 618.49 L749.00 617.02 L753.00 615.60 L757.00 614.20 L761.00 612.84 L765.00 611.52 L769.00 610.22 L773.00 608.96 L777.00 607.73 L781.00 606.53 L785.00 605.37 L789.00 604.23 L793.00 603.12 L797.00 602.05 L801.00 601.00 L805.00 599.98 L809.00 598.99 L813.00 598.03 L817.00 597.10 L821.00 596.19 L825.00 595.31 L829.00 594.46 L833.00 593.63 L837.00 592.83 L841.00 592.05 L845.00 591.30 L849.00 590.57 L853.00 589.86 L857.00 589.18 L861.00 588.51 L865.00 587.87 L869.00 587.25 L873.00 586.65 L877.00 586.07 L881.00 585.51 L885.00 584.97 L889.00 584.45 L893.00 583.94 L897.00 583.45 L901.00 582.98 L905.00 582.53 L909.00 582.09 L913.00 581.67 L917.00 581.26 L921.00 580.87 L925.00 580.49 L929.00 580.12 L933.00 579.77 L937.00 579.43 L941.00 579.10 L945.00 578.79 L949.00 578.48 L953.00 578.19 L957.00 577.91 L961.00 577.64 L965.00 577.38 L969.00 577.13 L973.00 576.89 L977.00 576.66 L981.00 576.43 L985.00 576.22 L989.00 576.01 L993.00 575.81 L997.00 575.62 L1001.00 575.44 L1005.00 575.26 L1009.00 575.10 L1013.00 574.93 L1017.00 574.78 L1021.00 574.63 L1025.00 574.48 L1029.00 574.34 L1033.00 574.21 L1037.00 574.08 L1041.00 573.96 L1045.00 573.84 L1049.00 573.73 L1053.00 573.62 L1057.00 573.51 L1061.00 573.41 L1065.00 573.32 L1069.00 573.23 L1073.00 573.14 L1077.00 573.05 L1081.00 572.97 L1085.00 572.89 L1089.00 572.82 L1093.00 572.74 L1097.00 572.67 L1101.00 572.61 L1105.00 572.54 L1109.00 572.48 L1113.00 572.42 L1117.00 572.36 L1121.00 572.31 L1125.00 572.26 L1129.00 572.21 L1133.00 572.16 L1137.00 572.11 L1141.00 572.07 L1145.00 572.02 L1149.00 571.98 L1153.00 571.94 L1157.00 571.90 L1161.00 571.87 L1165.00 571.83 L1169.00 571.80 L1173.00 571.76 L1177.00 571.73 L1181.00 571.70 L1185.00 571.67 L1189.00 571.64 L1193.00 571.61 L1197.00 571.59 L1201.00 571.56 L1205.00 571.54 L1209.00 571.51 L1213.00 571.49 L1217.00 571.47 L1221.00 571.45 L1225.00 571.42 L1229.00 571.40 L1233.00 571.38 L1237.00 571.36 L1241.00 571.34 L1245.00 571.33 L1249.00 571.31 L1253.00 571.29 L1257.00 571.27 L1261.00 571.26 L1265.00 571.24 L1269.00 571.22 L1273.00 571.21 L1277.00 571.19 L1281.00 571.18 L1285.00 571.16 L1289.00 571.14 L1293.00 571.13 L1297.00 571.11 L1301.00 571.10 L1305.00 571.09 L1309.00 571.07 L1313.00 571.06 L1317.00 571.04 L1321.00 571.03 L1325.00 571.01 L1329.00 571.00 L1333.00 570.98 L1337.00 570.97 L1341.00 570.95 L1345.00 570.94"/>
<path stroke="rgb(134,0,121)" d="M372.60 915.97 L373.00 915.50 L377.00 910.86 L381.00 906.26 L385.00 901.70 L389.00 897.17 L393.00 892.67 L397.00 888.21 L401.00 883.79 L405.00 879.41 L409.00 875.06 L413.00 870.75 L417.00 866.47 L421.00 862.23 L425.00 858.03 L429.00 853.86 L433.00 849.73 L437.00 845.63 L441.00 841.57 L445.00 837.54 L449.00 833.55 L453.00 829.60 L457.00 825.68 L461.00 821.80 L465.00 817.95 L469.00 814.14 L473.00 810.36 L477.00 806.61 L481.00 802.91 L485.00 799.23 L489.00 795.59 L493.00 791.99 L497.00 788.42 L501.00 784.88 L505.00 781.38 L509.00 777.91 L513.00 774.48 L517.00 771.08 L521.00 767.71 L525.00 764.38 L529.00 761.08 L533.00 757.82 L537.00 754.59 L541.00 751.39 L545.00 748.23 L549.00 745.10 L553.00 742.01 L557.00 738.94 L561.00 735.92 L565.00 732.92 L569.00 729.96 L573.00 727.04 L577.00 724.15 L581.00 721.29 L585.00 718.47 L589.00 715.68 L593.00 712.93 L597.00 710.21 L601.00 707.52 L605.00 704.87 L609.00 702.25 L613.00 699.67 L617.00 697.13 L621.00 694.62 L625.00 692.14 L629.00 689.70 L633.00 687.29 L637.00 684.92 L641.00 682.59 L645.00 680.29 L649.00 678.03 L653.00 675.80 L657.00 673.61 L661.00 671.45 L665.00 669.33 L669.00 667.25 L673.00 665.20 L677.00 663.19 L681.00 661.21 L685.00 659.27 L689.00 657.36 L693.00 655.49 L697.00 653.66 L701.00 651.86 L705.00 650.10 L709.00 648.37 L713.00 646.68 L717.00 645.02 L721.00 643.40 L725.00 641.81 L729.00 640.26 L733.00 638.74 L737.00 637.25 L741.00 635.80 L745.00 634.39 L749.00 633.00 L753.00 631.65 L757.00 630.33 L761.00 629.05 L765.00 627.79 L769.00 626.57 L773.00 625.38 L777.00 624.22 L781.00 623.09 L785.00 621.99 L789.00 620.93 L793.00 619.89 L797.00 618.87 L801.00 617.89 L805.00 616.94 L809.00 616.01 L813.00 615.11 L817.00 614.23 L821.00 613.39 L825.00 612.56 L829.00 611.77 L833.00 610.99 L837.00 610.24 L841.00 609.52 L845.00 608.81 L849.00 608.13 L853.00 607.47 L857.00 606.84 L861.00 606.22 L865.00 605.62 L869.00 605.05 L873.00 604.49 L877.00 603.95 L881.00 603.43 L885.00 602.93 L889.00 602.44 L893.00 601.98 L897.00 601.52 L901.00 601.09 L905.00 600.67 L909.00 600.26 L913.00 599.87 L917.00 599.49 L921.00 599.13 L925.00 598.78 L929.00 598.44 L933.00 598.12 L937.00 597.80 L941.00 597.50 L945.00 597.21 L949.00 596.93 L953.00 596.66 L957.00 596.40 L961.00 596.16 L965.00 595.92 L969.00 595.69 L973.00 595.46 L977.00 595.25 L981.00 595.05 L985.00 594.85 L989.00 594.66 L993.00 594.48 L997.00 594.30 L1001.00 594.13 L1005.00 593.97 L1009.00 593.82 L1013.00 593.67 L1017.00 593.52 L1021.00 593.39 L1025.00 593.25 L1029.00 593.13 L1033.00 593.01 L1037.00 592.89 L1041.00 592.78 L1045.00 592.67 L1049.00 592.56 L1053.00 592.46 L1057.00 592.37 L1061.00 592.28 L1065.00 592.19 L1069.00 592.10 L1073.00 592.02 L1077.00 591.94 L1081.00 591.87 L1085.00 591.80 L1089.00 591.73 L1093.00 591.66 L1097.00 591.60 L1101.00 591.54 L1105.00 591.48 L1109.00 591.42 L1113.00 591.37 L1117.00 591.32 L1121.00 591.27 L1125.00 591.22 L1129.00 591.17 L1133.00 591.13 L1137.00 591.09 L1141.00 591.05 L1145.00 591.01 L1149.00 590.97 L1153.00 590.93 L1157.00 590.90 L1161.00 590.87 L1165.00 590.83 L1169.00 590.80 L1173.00 590.77 L1177.00 590.74 L1181.00 590.72 L1185.00 590.69 L1189.00 590.66 L1193.00 590.64 L1197.00 590.62 L1201.00 590.59 L1205.00 590.57 L1209.00 590.55 L1213.00 590.53 L1217.00 590.51 L1221.00 590.49 L1225.00 590.47 L1229.00 590.45 L1233.00 590.43 L1237.00 590.42 L1241.00 590.40 L1245.00 590.38 L1249.00 590.37 L1253.00 590.35 L1257.00 590.34 L1261.00 590.32 L1265.00 590.31 L1269.00 590.29 L1273.00 590.28 L1277.00 590.27 L1281.00 590.25 L1285.00 590.24 L1289.00 590.23 L1293.00 590.22 L1297.00 590.20 L1301.00 590.19 L1305.00 590.18 L1309.00 590.17 L1313.00 590.16 L1317.00 590.14 L1321.00 590.13 L1325.00 590.12 L1329.00 590.11 L1333.00 590.10 L1337.00 590.08 L1341.00 590.07 L1345.00 590.06"/>
<path stroke="rgb(148,0,107)" d="M372.60 923.45 L373.00 923.00 L377.00 918.50 L381.00 914.03 L385.00 909.59 L389.00 905.18 L393.00 900.80 L397.00 896.45 L401.00 892.14 L405.00 887.85 L409.00 883.60 L413.00 879.38 L417.00 875.20 L421.00 871.04 L425.00 866.92 L429.00 862.83 L433.00 858.78 L437.00 854.76 L441.00 850.77 L445.00 846.82 L449.00 842.90 L453.00 839.01 L457.00 835.16 L461.00 831.34 L465.00 827.56 L469.00 823.81 L473.00 820.10 L477.00 816.42 L481.00 812.77 L485.00 809.16 L489.00 805.58 L493.00 802.04 L497.00 798.53 L501.00 795.06 L505.00 791.62 L509.00 788.21 L513.00 784.84 L517.00 781.51 L521.00 778.20 L525.00 774.94 L529.00 771.70 L533.00 768.50 L537.00 765.34 L541.00 762.21 L545.00 759.12 L549.00 756.06 L553.00 753.03 L557.00 750.04 L561.00 747.08 L565.00 744.16 L569.00 741.27 L573.00 738.42 L577.00 735.60 L581.00 732.81 L585.00 730.07 L589.00 727.35 L593.00 724.67 L597.00 722.03 L601.00 719.42 L605.00 716.85 L609.00 714.31 L613.00 711.80 L617.00 709.34 L621.00 706.90 L625.00 704.51 L629.00 702.15 L633.00 699.82 L637.00 697.53 L641.00 695.27 L645.00 693.05 L649.00 690.87 L653.00 688.72 L657.00 686.61 L661.00 684.53 L665.00 682.49 L669.00 680.49 L673.00 678.52 L677.00 676.59 L681.00 674.69 L685.00 672.82 L689.00 671.00 L693.00 669.20 L697.00 667.45 L701.00 665.73 L705.00 664.04 L709.00 662.39 L713.00 660.77 L717.00 659.19 L721.00 657.64 L725.00 656.12 L729.00 654.64 L733.00 653.20 L737.00 651.78 L741.00 650.40 L745.00 649.05 L749.00 647.74 L753.00 646.46 L757.00 645.20 L761.00 643.98 L765.00 642.80 L769.00 641.64 L773.00 640.51 L777.00 639.41 L781.00 638.34 L785.00 637.31 L789.00 636.29 L793.00 635.31 L797.00 634.36 L801.00 633.43 L805.00 632.53 L809.00 631.66 L813.00 630.81 L817.00 629.99 L821.00 629.19 L825.00 628.41 L829.00 627.66 L833.00 626.94 L837.00 626.24 L841.00 625.55 L845.00 624.89 L849.00 624.26 L853.00 623.64 L857.00 623.04 L861.00 622.47 L865.00 621.91 L869.00 621.37 L873.00 620.85 L877.00 620.35 L881.00 619.86 L885.00 619.39 L889.00 618.94 L893.00 618.50 L897.00 618.08 L901.00 617.67 L905.00 617.28 L909.00 616.91 L913.00 616.54 L917.00 616.19 L921.00 615.85 L925.00 615.53 L929.00 615.21 L933.00 614.91 L937.00 614.62 L941.00 614.34 L945.00 614.07 L949.00 613.81 L953.00 613.56 L957.00 613.32 L961.00 613.09 L965.00 612.87 L969.00 612.66 L973.00 612.45 L977.00 612.26 L981.00 612.07 L985.00 611.88 L989.00 611.71 L993.00 611.54 L997.00 611.38 L1001.00 611.22 L1005.00 611.07 L1009.00 610.93 L1013.00 610.79 L1017.00 610.66 L1021.00 610.53 L1025.00 610.41 L1029.00 610.30 L1033.00 610.18 L1037.00 610.07 L1041.00 609.97 L1045.00 609.87 L1049.00 609.78 L1053.00 609.68 L1057.00 609.60 L1061.00 609.51 L1065.00 609.43 L1069.00 609.35 L1073.00 609.28 L1077.00 609.21 L1081.00 609.14 L1085.00 609.07 L1089.00 609.01 L1093.00 608.95 L1097.00 608.89 L1101.00 608.83 L1105.00 608.78 L1109.00 608.73 L1113.00 608.68 L1117.00 608.63 L1121.00 608.58 L1125.00 608.54 L1129.00 608.50 L1133.00 608.46 L1137.00 608.42 L1141.00 608.38 L1145.00 608.35 L1149.00 608.31 L1153.00 608.28 L1157.00 608.25 L1161.00 608.22 L1165.00 608.19 L1169.00 608.16 L1173.00 608.13 L1177.00 608.11 L1181.00 608.08 L1185.00 608.06 L1189.00 608.03 L1193.00 608.01 L1197.00 607.99 L1201.00 607.97 L1205.00 607.95 L1209.00 607.93 L1213.00 607.91 L1217.00 607.89 L1221.00 607.88 L1225.00 607.86 L1229.00 607.84 L1233.00 607.83 L1237.00 607.81 L1241.00 607.80 L1245.00 607.79 L1249.00 607.77 L1253.00 607.76 L1257.00 607.75 L1261.00 607.73 L1265.00 607.72 L1269.00 607.71 L1273.00 607.70 L1277.00 607.69 L1281.00 607.67 L1285.00 607.66 L1289.00 607.65 L1293.00 607.64 L1297.00 607.63 L1301.00 607.62 L1305.00 607.61 L1309.00 607.60 L1313.00 607.59 L1317.00 607.58 L1321.00 607.57 L1325.00 607.57 L1329.00 607.56 L1333.00 607.55 L1337.00 607.54 L1341.00 607.53 L1345.00 607.52"/>
<path stroke="rgb(161,0,94)" d="M372.60 930.64 L373.00 930.20 L377.00 925.80 L381.00 921.43 L385.00 917.08 L389.00 912.77 L393.00 908.48 L397.00 904.21 L401.00 899.98 L405.00 895.78 L409.00 891.61 L413.00 887.46 L417.00 883.35 L421.00 879.27 L425.00 875.22 L429.00 871.20 L433.00 867.22 L437.00 863.26 L441.00 859.34 L445.00 855.45 L449.00 851.59 L453.00 847.77 L457.00 843.98 L461.00 840.23 L465.00 836.50 L469.00 832.82 L473.00 829.16 L477.00 825.54 L481.00 821.95 L485.00 818.40 L489.00 814.88 L493.00 811.40 L497.00 807.95 L501.00 804.53 L505.00 801.15 L509.00 797.81 L513.00 794.50 L517.00 791.22 L521.00 787.98 L525.00 784.77 L529.00 781.60 L533.00 778.46 L537.00 775.36 L541.00 772.29 L545.00 769.26 L549.00 766.26 L553.00 763.30 L557.00 760.37 L561.00 757.48 L565.00 754.62 L569.00 751.80 L573.00 749.01 L577.00 746.26 L581.00 743.54 L585.00 740.86 L589.00 738.22 L593.00 735.61 L597.00 733.03 L601.00 730.49 L605.00 727.99 L609.00 725.52 L613.00 723.09 L617.00 720.69 L621.00 718.33 L625.00 716.01 L629.00 713.72 L633.00 711.46 L637.00 709.25 L641.00 707.06 L645.00 704.92 L649.00 702.81 L653.00 700.73 L657.00 698.69 L661.00 696.69 L665.00 694.72 L669.00 692.79 L673.00 690.89 L677.00 689.03 L681.00 687.21 L685.00 685.42 L689.00 683.66 L693.00 681.94 L697.00 680.25 L701.00 678.60 L705.00 676.99 L709.00 675.41 L713.00 673.86 L717.00 672.34 L721.00 670.86 L725.00 669.42 L729.00 668.00 L733.00 666.62 L737.00 665.27 L741.00 663.96 L745.00 662.67 L749.00 661.42 L753.00 660.20 L757.00 659.01 L761.00 657.85 L765.00 656.72 L769.00 655.62 L773.00 654.55 L777.00 653.51 L781.00 652.49 L785.00 651.51 L789.00 650.55 L793.00 649.62 L797.00 648.72 L801.00 647.84 L805.00 646.99 L809.00 646.16 L813.00 645.36 L817.00 644.58 L821.00 643.83 L825.00 643.10 L829.00 642.39 L833.00 641.71 L837.00 641.04 L841.00 640.40 L845.00 639.78 L849.00 639.18 L853.00 638.60 L857.00 638.04 L861.00 637.49 L865.00 636.97 L869.00 636.46 L873.00 635.97 L877.00 635.50 L881.00 635.04 L885.00 634.60 L889.00 634.18 L893.00 633.77 L897.00 633.37 L901.00 632.99 L905.00 632.63 L909.00 632.27 L913.00 631.93 L917.00 631.60 L921.00 631.28 L925.00 630.98 L929.00 630.69 L933.00 630.40 L937.00 630.13 L941.00 629.87 L945.00 629.62 L949.00 629.37 L953.00 629.14 L957.00 628.92 L961.00 628.70 L965.00 628.49 L969.00 628.29 L973.00 628.10 L977.00 627.92 L981.00 627.74 L985.00 627.57 L989.00 627.41 L993.00 627.25 L997.00 627.10 L1001.00 626.95 L1005.00 626.81 L1009.00 626.68 L1013.00 626.55 L1017.00 626.43 L1021.00 626.31 L1025.00 626.20 L1029.00 626.09 L1033.00 625.98 L1037.00 625.88 L1041.00 625.78 L1045.00 625.69 L1049.00 625.60 L1053.00 625.52 L1057.00 625.43 L1061.00 625.36 L1065.00 625.28 L1069.00 625.21 L1073.00 625.14 L1077.00 625.07 L1081.00 625.01 L1085.00 624.95 L1089.00 624.89 L1093.00 624.83 L1097.00 624.78 L1101.00 624.72 L1105.00 624.67 L1109.00 624.63 L1113.00 624.58 L1117.00 624.54 L1121.00 624.49 L1125.00 624.45 L1129.00 624.42 L1133.00 624.38 L1137.00 624.34 L1141.00 624.31 L1145.00 624.28 L1149.00 624.24 L1153.00 624.21 L1157.00 624.18 L1161.00 624.16 L1165.00 624.13 L1169.00 624.10 L1173.00 624.08 L1177.00 624.06 L1181.00 624.03 L1185.00 624.01 L1189.00 623.99 L1193.00 623.97 L1197.00 623.95 L1201.00 623.93 L1205.00 623.92 L1209.00 623.90 L1213.00 623.88 L1217.00 623.87 L1221.00 623.85 L1225.00 623.84 L1229.00 623.82 L1233.00 623.81 L1237.00 623.80 L1241.00 623.78 L1245.00 623.77 L1249.00 623.76 L1253.00 623.75 L1257.00 623.74 L1261.00 623.73 L1265.00 623.72 L1269.00 623.71 L1273.00 623.70 L1277.00 623.69 L1281.00 623.68 L1285.00 623.68 L1289.00 623.67 L1293.00 623.66 L1297.00 623.65 L1301.00 623.65 L1305.00 623.64 L1309.00 623.63 L1313.00 623.63 L1317.00 623.62 L1321.00 623.61 L1325.00 623.61 L1329.00 623.60 L1333.00 623.60 L1337.00 623.59 L1341.00 623.58 L1345.00 623.58"/>
<path stroke="rgb(174,0,81)" d="M372.60 937.54 L373.00 937.10 L377.00 932.78 L381.00 928.48 L385.00 924.21 L389.00 919.96 L393.00 915.74 L397.00 911.55 L401.00 907.39 L405.00 903.25 L409.00 899.14 L413.00 895.06 L417.00 891.01 L421.00 886.99 L425.00 883.01 L429.00 879.05 L433.00 875.12 L437.00 871.23 L441.00 867.36 L445.00 863.53 L449.00 859.73 L453.00 855.97 L457.00 852.23 L461.00 848.53 L465.00 844.87 L469.00 841.23 L473.00 837.63 L477.00 834.07 L481.00 830.54 L485.00 827.04 L489.00 823.58 L493.00 820.15 L497.00 816.76 L501.00 813.40 L505.00 810.07 L509.00 806.78 L513.00 803.53 L517.00 800.31 L521.00 797.12 L525.00 793.98 L529.00 790.86 L533.00 787.78 L537.00 784.74 L541.00 781.73 L545.00 778.76 L549.00 775.82 L553.00 772.92 L557.00 770.05 L561.00 767.22 L565.00 764.42 L569.00 761.66 L573.00 758.94 L577.00 756.25 L581.00 753.60 L585.00 750.98 L589.00 748.40 L593.00 745.85 L597.00 743.34 L601.00 740.87 L605.00 738.43 L609.00 736.02 L613.00 733.66 L617.00 731.33 L621.00 729.03 L625.00 726.77 L629.00 724.55 L633.00 722.36 L637.00 720.21 L641.00 718.10 L645.00 716.02 L649.00 713.98 L653.00 711.97 L657.00 710.00 L661.00 708.06 L665.00 706.16 L669.00 704.29 L673.00 702.46 L677.00 700.67 L681.00 698.91 L685.00 697.18 L689.00 695.49 L693.00 693.84 L697.00 692.22 L701.00 690.63 L705.00 689.08 L709.00 687.56 L713.00 686.07 L717.00 684.62 L721.00 683.20 L725.00 681.81 L729.00 680.46 L733.00 679.14 L737.00 677.85 L741.00 676.59 L745.00 675.37 L749.00 674.17 L753.00 673.00 L757.00 671.87 L761.00 670.76 L765.00 669.69 L769.00 668.64 L773.00 667.62 L777.00 666.63 L781.00 665.67 L785.00 664.73 L789.00 663.82 L793.00 662.94 L797.00 662.08 L801.00 661.25 L805.00 660.44 L809.00 659.66 L813.00 658.90 L817.00 658.17 L821.00 657.45 L825.00 656.76 L829.00 656.09 L833.00 655.45 L837.00 654.82 L841.00 654.21 L845.00 653.63 L849.00 653.06 L853.00 652.51 L857.00 651.98 L861.00 651.47 L865.00 650.98 L869.00 650.50 L873.00 650.04 L877.00 649.59 L881.00 649.16 L885.00 648.75 L889.00 648.35 L893.00 647.96 L897.00 647.59 L901.00 647.23 L905.00 646.89 L909.00 646.55 L913.00 646.23 L917.00 645.93 L921.00 645.63 L925.00 645.34 L929.00 645.07 L933.00 644.80 L937.00 644.55 L941.00 644.30 L945.00 644.06 L949.00 643.84 L953.00 643.62 L957.00 643.41 L961.00 643.20 L965.00 643.01 L969.00 642.82 L973.00 642.64 L977.00 642.47 L981.00 642.30 L985.00 642.14 L989.00 641.99 L993.00 641.84 L997.00 641.70 L1001.00 641.57 L1005.00 641.44 L1009.00 641.31 L1013.00 641.19 L1017.00 641.08 L1021.00 640.96 L1025.00 640.86 L1029.00 640.76 L1033.00 640.66 L1037.00 640.56 L1041.00 640.47 L1045.00 640.39 L1049.00 640.30 L1053.00 640.22 L1057.00 640.15 L1061.00 640.07 L1065.00 640.00 L1069.00 639.93 L1073.00 639.87 L1077.00 639.81 L1081.00 639.75 L1085.00 639.69 L1089.00 639.64 L1093.00 639.58 L1097.00 639.53 L1101.00 639.48 L1105.00 639.44 L1109.00 639.39 L1113.00 639.35 L1117.00 639.31 L1121.00 639.27 L1125.00 639.23 L1129.00 639.20 L1133.00 639.16 L1137.00 639.13 L1141.00 639.10 L1145.00 639.07 L1149.00 639.04 L1153.00 639.01 L1157.00 638.98 L1161.00 638.95 L1165.00 638.93 L1169.00 638.91 L1173.00 638.88 L1177.00 638.86 L1181.00 638.84 L1185.00 638.82 L1189.00 638.80 L1193.00 638.78 L1197.00 638.77 L1201.00 638.75 L1205.00 638.73 L1209.00 638.72 L1213.00 638.70 L1217.00 638.69 L1221.00 638.67 L1225.00 638.66 L1229.00 638.65 L1233.00 638.64 L1237.00 638.62 L1241.00 638.61 L1245.00 638.60 L1249.00 638.59 L1253.00 638.58 L1257.00 638.57 L1261.00 638.56 L1265.00 638.56 L1269.00 638.55 L1273.00 638.54 L1277.00 638.53 L1281.00 638.53 L1285.00 638.52 L1289.00 638.51 L1293.00 638.51 L1297.00 638.50 L1301.00 638.49 L1305.00 638.49 L1309.00 638.48 L1313.00 638.48 L1317.00 638.47 L1321.00 638.47 L1325.00 638.46 L1329.00 638.46 L1333.00 638.45 L1337.00 638.45 L1341.00 638.45 L1345.00 638.44"/>
<path stroke="rgb(188,0,67)" d="M372.60 944.13 L373.00 943.70 L377.00 939.44 L381.00 935.20 L385.00 930.99 L389.00 926.80 L393.00 922.64 L397.00 918.50 L401.00 914.40 L405.00 910.31 L409.00 906.26 L413.00 902.24 L417.00 898.24 L421.00 894.28 L425.00 890.34 L429.00 886.44 L433.00 882.56 L437.00 878.72 L441.00 874.91 L445.00 871.13 L449.00 867.38 L453.00 863.67 L457.00 859.99 L461.00 856.34 L465.00 852.72 L469.00 849.14 L473.00 845.60 L477.00 842.08 L481.00 838.60 L485.00 835.16 L489.00 831.75 L493.00 828.37 L497.00 825.03 L501.00 821.73 L505.00 818.46 L509.00 815.22 L513.00 812.02 L517.00 808.85 L521.00 805.72 L525.00 802.63 L529.00 799.57 L533.00 796.55 L537.00 793.56 L541.00 790.61 L545.00 787.69 L549.00 784.81 L553.00 781.96 L557.00 779.16 L561.00 776.38 L565.00 773.64 L569.00 770.94 L573.00 768.28 L577.00 765.65 L581.00 763.05 L585.00 760.50 L589.00 757.97 L593.00 755.49 L597.00 753.04 L601.00 750.63 L605.00 748.25 L609.00 745.91 L613.00 743.60 L617.00 741.33 L621.00 739.10 L625.00 736.90 L629.00 734.74 L633.00 732.62 L637.00 730.53 L641.00 728.47 L645.00 726.46 L649.00 724.47 L653.00 722.53 L657.00 720.62 L661.00 718.74 L665.00 716.90 L669.00 715.10 L673.00 713.33 L677.00 711.59 L681.00 709.89 L685.00 708.23 L689.00 706.60 L693.00 705.00 L697.00 703.44 L701.00 701.91 L705.00 700.42 L709.00 698.96 L713.00 697.53 L717.00 696.13 L721.00 694.77 L725.00 693.44 L729.00 692.14 L733.00 690.87 L737.00 689.64 L741.00 688.43 L745.00 687.26 L749.00 686.12 L753.00 685.00 L757.00 683.92 L761.00 682.86 L765.00 681.83 L769.00 680.83 L773.00 679.86 L777.00 678.92 L781.00 678.00 L785.00 677.11 L789.00 676.24 L793.00 675.40 L797.00 674.59 L801.00 673.80 L805.00 673.03 L809.00 672.29 L813.00 671.56 L817.00 670.87 L821.00 670.19 L825.00 669.54 L829.00 668.90 L833.00 668.29 L837.00 667.70 L841.00 667.12 L845.00 666.57 L849.00 666.03 L853.00 665.51 L857.00 665.01 L861.00 664.53 L865.00 664.06 L869.00 663.61 L873.00 663.17 L877.00 662.75 L881.00 662.35 L885.00 661.96 L889.00 661.58 L893.00 661.22 L897.00 660.87 L901.00 660.53 L905.00 660.20 L909.00 659.89 L913.00 659.59 L917.00 659.30 L921.00 659.02 L925.00 658.75 L929.00 658.49 L933.00 658.24 L937.00 658.00 L941.00 657.77 L945.00 657.55 L949.00 657.33 L953.00 657.13 L957.00 656.93 L961.00 656.74 L965.00 656.56 L969.00 656.38 L973.00 656.21 L977.00 656.05 L981.00 655.90 L985.00 655.75 L989.00 655.60 L993.00 655.46 L997.00 655.33 L1001.00 655.20 L1005.00 655.08 L1009.00 654.96 L1013.00 654.85 L1017.00 654.74 L1021.00 654.64 L1025.00 654.54 L1029.00 654.44 L1033.00 654.35 L1037.00 654.26 L1041.00 654.18 L1045.00 654.10 L1049.00 654.02 L1053.00 653.94 L1057.00 653.87 L1061.00 653.80 L1065.00 653.74 L1069.00 653.67 L1073.00 653.61 L1077.00 653.55 L1081.00 653.50 L1085.00 653.45 L1089.00 653.39 L1093.00 653.34 L1097.00 653.30 L1101.00 653.25 L1105.00 653.21 L1109.00 653.17 L1113.00 653.13 L1117.00 653.09 L1121.00 653.05 L1125.00 653.02 L1129.00 652.98 L1133.00 652.95 L1137.00 652.92 L1141.00 652.89 L1145.00 652.86 L1149.00 652.83 L1153.00 652.81 L1157.00 652.78 L1161.00 652.76 L1165.00 652.73 L1169.00 652.71 L1173.00 652.69 L1177.00 652.67 L1181.00 652.65 L1185.00 652.63 L1189.00 652.61 L1193.00 652.60 L1197.00 652.58 L1201.00 652.56 L1205.00 652.55 L1209.00 652.53 L1213.00 652.52 L1217.00 652.51 L1221.00 652.49 L1225.00 652.48 L1229.00 652.47 L1233.00 652.46 L1237.00 652.45 L1241.00 652.44 L1245.00 652.43 L1249.00 652.42 L1253.00 652.41 L1257.00 652.40 L1261.00 652.39 L1265.00 652.38 L1269.00 652.38 L1273.00 652.37 L1277.00 652.36 L1281.00 652.35 L1285.00 652.35 L1289.00 652.34 L1293.00 652.34 L1297.00 652.33 L1301.00 652.32 L1305.00 652.32 L1309.00 652.31 L1313.00 652.31 L1317.00 652.30 L1321.00 652.30 L1325.00 652.30 L1329.00 652.29 L1333.00 652.29 L1337.00 652.28 L1341.00 652.28 L1345.00 652.28"/>
<path stroke="rgb(201,0,54)" d="M372.60 950.42 L373.00 950.00 L377.00 945.79 L381.00 941.60 L385.00 937.44 L389.00 933.30 L393.00 929.19 L397.00 925.10 L401.00 921.04 L405.00 917.01 L409.00 913.01 L413.00 909.03 L417.00 905.08 L421.00 901.16 L425.00 897.28 L429.00 893.42 L433.00 889.59 L437.00 885.80 L441.00 882.03 L445.00 878.30 L449.00 874.60 L453.00 870.94 L457.00 867.30 L461.00 863.70 L465.00 860.14 L469.00 856.61 L473.00 853.11 L477.00 849.64 L481.00 846.21 L485.00 842.82 L489.00 839.46 L493.00 836.13 L497.00 832.84 L501.00 829.59 L505.00 826.37 L509.00 823.18 L513.00 820.03 L517.00 816.92 L521.00 813.84 L525.00 810.80 L529.00 807.79 L533.00 804.82 L537.00 801.89 L541.00 798.99 L545.00 796.13 L549.00 793.30 L553.00 790.51 L557.00 787.75 L561.00 785.04 L565.00 782.35 L569.00 779.71 L573.00 777.10 L577.00 774.53 L581.00 771.99 L585.00 769.49 L589.00 767.02 L593.00 764.59 L597.00 762.20 L601.00 759.84 L605.00 757.52 L609.00 755.24 L613.00 752.99 L617.00 750.78 L621.00 748.61 L625.00 746.47 L629.00 744.36 L633.00 742.30 L637.00 740.26 L641.00 738.27 L645.00 736.31 L649.00 734.38 L653.00 732.50 L657.00 730.64 L661.00 728.82 L665.00 727.04 L669.00 725.29 L673.00 723.58 L677.00 721.90 L681.00 720.26 L685.00 718.65 L689.00 717.07 L693.00 715.53 L697.00 714.02 L701.00 712.55 L705.00 711.11 L709.00 709.70 L713.00 708.32 L717.00 706.98 L721.00 705.67 L725.00 704.39 L729.00 703.14 L733.00 701.92 L737.00 700.74 L741.00 699.58 L745.00 698.45 L749.00 697.36 L753.00 696.29 L757.00 695.25 L761.00 694.24 L765.00 693.25 L769.00 692.30 L773.00 691.37 L777.00 690.47 L781.00 689.59 L785.00 688.74 L789.00 687.91 L793.00 687.11 L797.00 686.33 L801.00 685.58 L805.00 684.85 L809.00 684.14 L813.00 683.46 L817.00 682.79 L821.00 682.15 L825.00 681.53 L829.00 680.92 L833.00 680.34 L837.00 679.78 L841.00 679.23 L845.00 678.71 L849.00 678.20 L853.00 677.71 L857.00 677.23 L861.00 676.77 L865.00 676.33 L869.00 675.90 L873.00 675.49 L877.00 675.09 L881.00 674.71 L885.00 674.34 L889.00 673.98 L893.00 673.64 L897.00 673.31 L901.00 672.99 L905.00 672.68 L909.00 672.39 L913.00 672.10 L917.00 671.83 L921.00 671.56 L925.00 671.31 L929.00 671.07 L933.00 670.83 L937.00 670.60 L941.00 670.39 L945.00 670.18 L949.00 669.97 L953.00 669.78 L957.00 669.59 L961.00 669.42 L965.00 669.24 L969.00 669.08 L973.00 668.92 L977.00 668.77 L981.00 668.62 L985.00 668.48 L989.00 668.34 L993.00 668.21 L997.00 668.09 L1001.00 667.97 L1005.00 667.85 L1009.00 667.74 L1013.00 667.64 L1017.00 667.54 L1021.00 667.44 L1025.00 667.34 L1029.00 667.25 L1033.00 667.17 L1037.00 667.08 L1041.00 667.00 L1045.00 666.93 L1049.00 666.85 L1053.00 666.78 L1057.00 666.72 L1061.00 666.65 L1065.00 666.59 L1069.00 666.53 L1073.00 666.47 L1077.00 666.42 L1081.00 666.37 L1085.00 666.32 L1089.00 666.27 L1093.00 666.22 L1097.00 666.18 L1101.00 666.13 L1105.00 666.09 L1109.00 666.05 L1113.00 666.02 L1117.00 665.98 L1121.00 665.94 L1125.00 665.91 L1129.00 665.88 L1133.00 665.85 L1137.00 665.82 L1141.00 665.79 L1145.00 665.77 L1149.00 665.74 L1153.00 665.71 L1157.00 665.69 L1161.00 665.67 L1165.00 665.65 L1169.00 665.63 L1173.00 665.61 L1177.00 665.59 L1181.00 665.57 L1185.00 665.55 L1189.00 665.53 L1193.00 665.52 L1197.00 665.50 L1201.00 665.49 L1205.00 665.47 L1209.00 665.46 L1213.00 665.45 L1217.00 665.43 L1221.00 665.42 L1225.00 665.41 L1229.00 665.40 L1233.00 665.39 L1237.00 665.38 L1241.00 665.37 L1245.00 665.36 L1249.00 665.35 L1253.00 665.34 L1257.00 665.33 L1261.00 665.33 L1265.00 665.32 L1269.00 665.31 L1273.00 665.30 L1277.00 665.30 L1281.00 665.29 L1285.00 665.28 L1289.00 665.28 L1293.00 665.27 L1297.00 665.27 L1301.00 665.26 L1305.00 665.26 L1309.00 665.25 L1313.00 665.25 L1317.00 665.24 L1321.00 665.24 L1325.00 665.24 L1329.00 665.23 L1333.00 665.23 L1337.00 665.23 L1341.00 665.22 L1345.00 665.22"/>
<path stroke="rgb(215,0,40)" d="M372.60 956.37 L373.00 955.95 L377.00 951.79 L381.00 947.66 L385.00 943.54 L389.00 939.45 L393.00 935.39 L397.00 931.35 L401.00 927.34 L405.00 923.35 L409.00 919.40 L413.00 915.47 L417.00 911.56 L421.00 907.69 L425.00 903.85 L429.00 900.04 L433.00 896.26 L437.00 892.51 L441.00 888.79 L445.00 885.10 L449.00 881.45 L453.00 877.83 L457.00 874.24 L461.00 870.69 L465.00 867.17 L469.00 863.68 L473.00 860.23 L477.00 856.81 L481.00 853.43 L485.00 850.08 L489.00 846.77 L493.00 843.49 L497.00 840.24 L501.00 837.04 L505.00 833.86 L509.00 830.73 L513.00 827.63 L517.00 824.56 L521.00 821.53 L525.00 818.54 L529.00 815.59 L533.00 812.66 L537.00 809.78 L541.00 806.93 L545.00 804.12 L549.00 801.35 L553.00 798.61 L557.00 795.91 L561.00 793.24 L565.00 790.61 L569.00 788.02 L573.00 785.46 L577.00 782.94 L581.00 780.46 L585.00 778.01 L589.00 775.60 L593.00 773.22 L597.00 770.88 L601.00 768.58 L605.00 766.32 L609.00 764.09 L613.00 761.89 L617.00 759.74 L621.00 757.61 L625.00 755.53 L629.00 753.48 L633.00 751.47 L637.00 749.49 L641.00 747.55 L645.00 745.64 L649.00 743.77 L653.00 741.94 L657.00 740.14 L661.00 738.37 L665.00 736.64 L669.00 734.95 L673.00 733.29 L677.00 731.66 L681.00 730.07 L685.00 728.51 L689.00 726.98 L693.00 725.49 L697.00 724.04 L701.00 722.61 L705.00 721.22 L709.00 719.86 L713.00 718.53 L717.00 717.24 L721.00 715.97 L725.00 714.74 L729.00 713.54 L733.00 712.37 L737.00 711.22 L741.00 710.11 L745.00 709.03 L749.00 707.98 L753.00 706.95 L757.00 705.95 L761.00 704.98 L765.00 704.04 L769.00 703.12 L773.00 702.23 L777.00 701.37 L781.00 700.53 L785.00 699.71 L789.00 698.92 L793.00 698.16 L797.00 697.41 L801.00 696.69 L805.00 696.00 L809.00 695.32 L813.00 694.67 L817.00 694.03 L821.00 693.42 L825.00 692.83 L829.00 692.25 L833.00 691.70 L837.00 691.16 L841.00 690.64 L845.00 690.14 L849.00 689.66 L853.00 689.19 L857.00 688.74 L861.00 688.30 L865.00 687.88 L869.00 687.48 L873.00 687.09 L877.00 686.71 L881.00 686.35 L885.00 686.00 L889.00 685.66 L893.00 685.33 L897.00 685.02 L901.00 684.72 L905.00 684.42 L909.00 684.14 L913.00 683.87 L917.00 683.61 L921.00 683.36 L925.00 683.12 L929.00 682.89 L933.00 682.67 L937.00 682.46 L941.00 682.25 L945.00 682.05 L949.00 681.86 L953.00 681.68 L957.00 681.50 L961.00 681.33 L965.00 681.17 L969.00 681.01 L973.00 680.86 L977.00 680.72 L981.00 680.58 L985.00 680.45 L989.00 680.32 L993.00 680.20 L997.00 680.08 L1001.00 679.97 L1005.00 679.86 L1009.00 679.75 L1013.00 679.65 L1017.00 679.56 L1021.00 679.47 L1025.00 679.38 L1029.00 679.29 L1033.00 679.21 L1037.00 679.13 L1041.00 679.06 L1045.00 678.99 L1049.00 678.92 L1053.00 678.85 L1057.00 678.79 L1061.00 678.73 L1065.00 678.67 L1069.00 678.61 L1073.00 678.56 L1077.00 678.50 L1081.00 678.46 L1085.00 678.41 L1089.00 678.36 L1093.00 678.32 L1097.00 678.28 L1101.00 678.24 L1105.00 678.20 L1109.00 678.16 L1113.00 678.13 L1117.00 678.09 L1121.00 678.06 L1125.00 678.03 L1129.00 678.00 L1133.00 677.97 L1137.00 677.94 L1141.00 677.91 L1145.00 677.89 L1149.00 677.87 L1153.00 677.84 L1157.00 677.82 L1161.00 677.80 L1165.00 677.78 L1169.00 677.76 L1173.00 677.74 L1177.00 677.72 L1181.00 677.70 L1185.00 677.69 L1189.00 677.67 L1193.00 677.66 L1197.00 677.64 L1201.00 677.63 L1205.00 677.61 L1209.00 677.60 L1213.00 677.59 L1217.00 677.58 L1221.00 677.57 L1225.00 677.56 L1229.00 677.54 L1233.00 677.53 L1237.00 677.53 L1241.00 677.52 L1245.00 677.51 L1249.00 677.50 L1253.00 677.49 L1257.00 677.48 L1261.00 677.48 L1265.00 677.47 L1269.00 677.46 L1273.00 677.46 L1277.00 677.45 L1281.00 677.44 L1285.00 677.44 L1289.00 677.43 L1293.00 677.43 L1297.00 677.42 L1301.00 677.42 L1305.00 677.41 L1309.00 677.41 L1313.00 677.40 L1317.00 677.40 L1321.00 677.40 L1325.00 677.39 L1329.00 677.39 L1333.00 677.38 L1337.00 677.38 L1341.00 677.38 L1345.00 677.38"/>
<path stroke="rgb(228,0,27)" d="M372.60 962.02 L373.00 961.60 L377.00 957.49 L381.00 953.41 L385.00 949.34 L389.00 945.30 L393.00 941.28 L397.00 937.29 L401.00 933.32 L405.00 929.38 L409.00 925.47 L413.00 921.58 L417.00 917.73 L421.00 913.90 L425.00 910.10 L429.00 906.33 L433.00 902.60 L437.00 898.89 L441.00 895.22 L445.00 891.57 L449.00 887.96 L453.00 884.38 L457.00 880.84 L461.00 877.33 L465.00 873.85 L469.00 870.41 L473.00 867.00 L477.00 863.63 L481.00 860.29 L485.00 856.98 L489.00 853.71 L493.00 850.48 L497.00 847.28 L501.00 844.12 L505.00 840.99 L509.00 837.90 L513.00 834.85 L517.00 831.83 L521.00 828.85 L525.00 825.90 L529.00 823.00 L533.00 820.12 L537.00 817.29 L541.00 814.49 L545.00 811.72 L549.00 809.00 L553.00 806.31 L557.00 803.66 L561.00 801.04 L565.00 798.46 L569.00 795.92 L573.00 793.41 L577.00 790.94 L581.00 788.51 L585.00 786.11 L589.00 783.75 L593.00 781.43 L597.00 779.14 L601.00 776.89 L605.00 774.67 L609.00 772.49 L613.00 770.35 L617.00 768.25 L621.00 766.18 L625.00 764.14 L629.00 762.15 L633.00 760.18 L637.00 758.26 L641.00 756.37 L645.00 754.51 L649.00 752.69 L653.00 750.91 L657.00 749.16 L661.00 747.44 L665.00 745.76 L669.00 744.11 L673.00 742.50 L677.00 740.93 L681.00 739.38 L685.00 737.87 L689.00 736.39 L693.00 734.95 L697.00 733.54 L701.00 732.16 L705.00 730.82 L709.00 729.50 L713.00 728.22 L717.00 726.97 L721.00 725.75 L725.00 724.56 L729.00 723.40 L733.00 722.27 L737.00 721.17 L741.00 720.10 L745.00 719.05 L749.00 718.04 L753.00 717.05 L757.00 716.09 L761.00 715.16 L765.00 714.25 L769.00 713.37 L773.00 712.52 L777.00 711.69 L781.00 710.88 L785.00 710.10 L789.00 709.35 L793.00 708.61 L797.00 707.90 L801.00 707.21 L805.00 706.54 L809.00 705.90 L813.00 705.27 L817.00 704.67 L821.00 704.08 L825.00 703.51 L829.00 702.97 L833.00 702.44 L837.00 701.92 L841.00 701.43 L845.00 700.95 L849.00 700.49 L853.00 700.04 L857.00 699.61 L861.00 699.20 L865.00 698.80 L869.00 698.41 L873.00 698.04 L877.00 697.68 L881.00 697.34 L885.00 697.00 L889.00 696.68 L893.00 696.37 L897.00 696.07 L901.00 695.79 L905.00 695.51 L909.00 695.24 L913.00 694.99 L917.00 694.74 L921.00 694.50 L925.00 694.28 L929.00 694.06 L933.00 693.85 L937.00 693.64 L941.00 693.45 L945.00 693.26 L949.00 693.08 L953.00 692.91 L957.00 692.74 L961.00 692.58 L965.00 692.43 L969.00 692.28 L973.00 692.14 L977.00 692.00 L981.00 691.87 L985.00 691.74 L989.00 691.62 L993.00 691.50 L997.00 691.39 L1001.00 691.29 L1005.00 691.18 L1009.00 691.08 L1013.00 690.99 L1017.00 690.90 L1021.00 690.81 L1025.00 690.73 L1029.00 690.65 L1033.00 690.57 L1037.00 690.50 L1041.00 690.43 L1045.00 690.36 L1049.00 690.29 L1053.00 690.23 L1057.00 690.17 L1061.00 690.11 L1065.00 690.06 L1069.00 690.00 L1073.00 689.95 L1077.00 689.90 L1081.00 689.86 L1085.00 689.81 L1089.00 689.77 L1093.00 689.73 L1097.00 689.69 L1101.00 689.65 L1105.00 689.61 L1109.00 689.58 L1113.00 689.54 L1117.00 689.51 L1121.00 689.48 L1125.00 689.45 L1129.00 689.42 L1133.00 689.40 L1137.00 689.37 L1141.00 689.35 L1145.00 689.32 L1149.00 689.30 L1153.00 689.28 L1157.00 689.26 L1161.00 689.24 L1165.00 689.22 L1169.00 689.20 L1173.00 689.18 L1177.00 689.16 L1181.00 689.15 L1185.00 689.13 L1189.00 689.12 L1193.00 689.10 L1197.00 689.09 L1201.00 689.08 L1205.00 689.06 L1209.00 689.05 L1213.00 689.04 L1217.00 689.03 L1221.00 689.02 L1225.00 689.01 L1229.00 689.00 L1233.00 688.99 L1237.00 688.98 L1241.00 688.97 L1245.00 688.96 L1249.00 688.95 L1253.00 688.95 L1257.00 688.94 L1261.00 688.93 L1265.00 688.92 L1269.00 688.92 L1273.00 688.91 L1277.00 688.91 L1281.00 688.90 L1285.00 688.90 L1289.00 688.89 L1293.00 688.89 L1297.00 688.88 L1301.00 688.88 L1305.00 688.87 L1309.00 688.87 L1313.00 688.86 L1317.00 688.86 L1321.00 688.86 L1325.00 688.85 L1329.00 688.85 L1333.00 688.85 L1337.00 688.84 L1341.00 688.84 L1345.00 688.84"/>
<path stroke="rgb(242,0,13)" d="M372.60 967.41 L373.00 967.00 L377.00 962.94 L381.00 958.90 L385.00 954.88 L389.00 950.88 L393.00 946.91 L397.00 942.96 L401.00 939.03 L405.00 935.14 L409.00 931.27 L413.00 927.42 L417.00 923.61 L421.00 919.82 L425.00 916.07 L429.00 912.34 L433.00 908.64 L437.00 904.98 L441.00 901.34 L445.00 897.74 L449.00 894.17 L453.00 890.64 L457.00 887.13 L461.00 883.66 L465.00 880.23 L469.00 876.82 L473.00 873.46 L477.00 870.13 L481.00 866.83 L485.00 863.57 L489.00 860.34 L493.00 857.15 L497.00 853.99 L501.00 850.88 L505.00 847.79 L509.00 844.75 L513.00 841.74 L517.00 838.76 L521.00 835.83 L525.00 832.93 L529.00 830.06 L533.00 827.24 L537.00 824.44 L541.00 821.69 L545.00 818.98 L549.00 816.30 L553.00 813.65 L557.00 811.05 L561.00 808.48 L565.00 805.95 L569.00 803.45 L573.00 800.99 L577.00 798.57 L581.00 796.18 L585.00 793.84 L589.00 791.52 L593.00 789.25 L597.00 787.01 L601.00 784.81 L605.00 782.64 L609.00 780.51 L613.00 778.42 L617.00 776.36 L621.00 774.34 L625.00 772.35 L629.00 770.40 L633.00 768.49 L637.00 766.61 L641.00 764.77 L645.00 762.96 L649.00 761.19 L653.00 759.45 L657.00 757.75 L661.00 756.08 L665.00 754.45 L669.00 752.85 L673.00 751.28 L677.00 749.75 L681.00 748.25 L685.00 746.78 L689.00 745.35 L693.00 743.95 L697.00 742.59 L701.00 741.25 L705.00 739.95 L709.00 738.67 L713.00 737.43 L717.00 736.22 L721.00 735.04 L725.00 733.89 L729.00 732.77 L733.00 731.68 L737.00 730.62 L741.00 729.59 L745.00 728.58 L749.00 727.60 L753.00 726.65 L757.00 725.73 L761.00 724.83 L765.00 723.96 L769.00 723.11 L773.00 722.29 L777.00 721.49 L781.00 720.72 L785.00 719.97 L789.00 719.24 L793.00 718.54 L797.00 717.85 L801.00 717.19 L805.00 716.55 L809.00 715.93 L813.00 715.33 L817.00 714.75 L821.00 714.19 L825.00 713.65 L829.00 713.13 L833.00 712.62 L837.00 712.13 L841.00 711.66 L845.00 711.20 L849.00 710.76 L853.00 710.33 L857.00 709.92 L861.00 709.53 L865.00 709.15 L869.00 708.78 L873.00 708.42 L877.00 708.08 L881.00 707.75 L885.00 707.43 L889.00 707.13 L893.00 706.83 L897.00 706.55 L901.00 706.28 L905.00 706.01 L909.00 705.76 L913.00 705.52 L917.00 705.28 L921.00 705.06 L925.00 704.84 L929.00 704.63 L933.00 704.43 L937.00 704.24 L941.00 704.05 L945.00 703.87 L949.00 703.70 L953.00 703.54 L957.00 703.38 L961.00 703.23 L965.00 703.08 L969.00 702.94 L973.00 702.80 L977.00 702.67 L981.00 702.55 L985.00 702.43 L989.00 702.32 L993.00 702.21 L997.00 702.10 L1001.00 702.00 L1005.00 701.90 L1009.00 701.81 L1013.00 701.72 L1017.00 701.63 L1021.00 701.55 L1025.00 701.47 L1029.00 701.39 L1033.00 701.32 L1037.00 701.25 L1041.00 701.18 L1045.00 701.12 L1049.00 701.06 L1053.00 701.00 L1057.00 700.94 L1061.00 700.89 L1065.00 700.83 L1069.00 700.78 L1073.00 700.73 L1077.00 700.69 L1081.00 700.64 L1085.00 700.60 L1089.00 700.56 L1093.00 700.52 L1097.00 700.48 L1101.00 700.45 L1105.00 700.41 L1109.00 700.38 L1113.00 700.35 L1117.00 700.32 L1121.00 700.29 L1125.00 700.26 L1129.00 700.23 L1133.00 700.21 L1137.00 700.18 L1141.00 700.16 L1145.00 700.14 L1149.00 700.12 L1153.00 700.10 L1157.00 700.08 L1161.00 700.06 L1165.00 700.04 L1169.00 700.02 L1173.00 700.00 L1177.00 699.99 L1181.00 699.97 L1185.00 699.96 L1189.00 699.94 L1193.00 699.93 L1197.00 699.92 L1201.00 699.90 L1205.00 699.89 L1209.00 699.88 L1213.00 699.87 L1217.00 699.86 L1221.00 699.85 L1225.00 699.84 L1229.00 699.83 L1233.00 699.82 L1237.00 699.81 L1241.00 699.80 L1245.00 699.80 L1249.00 699.79 L1253.00 699.78 L1257.00 699.77 L1261.00 699.77 L1265.00 699.76 L1269.00 699.76 L1273.00 699.75 L1277.00 699.74 L1281.00 699.74 L1285.00 699.73 L1289.00 699.73 L1293.00 699.72 L1297.00 699.72 L1301.00 699.72 L1305.00 699.71 L1309.00 699.71 L1313.00 699.70 L1317.00 699.70 L1321.00 699.70 L1325.00 699.69 L1329.00 699.69 L1333.00 699.69 L1337.00 699.68 L1341.00 699.68 L1345.00 699.68"/>
<path stroke="rgb(255,0,0)" d="M372.60 972.81 L373.00 972.40 L377.00 968.36 L381.00 964.34 L385.00 960.34 L389.00 956.36 L393.00 952.41 L397.00 948.49 L401.00 944.59 L405.00 940.72 L409.00 936.87 L413.00 933.06 L417.00 929.27 L421.00 925.52 L425.00 921.79 L429.00 918.10 L433.00 914.43 L437.00 910.80 L441.00 907.20 L445.00 903.63 L449.00 900.10 L453.00 896.60 L457.00 893.13 L461.00 889.70 L465.00 886.30 L469.00 882.94 L473.00 879.61 L477.00 876.32 L481.00 873.06 L485.00 869.84 L489.00 866.66 L493.00 863.51 L497.00 860.40 L501.00 857.32 L505.00 854.28 L509.00 851.28 L513.00 848.31 L517.00 845.38 L521.00 842.49 L525.00 839.63 L529.00 836.81 L533.00 834.03 L537.00 831.29 L541.00 828.58 L545.00 825.91 L549.00 823.27 L553.00 820.68 L557.00 818.12 L561.00 815.59 L565.00 813.11 L569.00 810.66 L573.00 808.25 L577.00 805.87 L581.00 803.53 L585.00 801.23 L589.00 798.96 L593.00 796.74 L597.00 794.54 L601.00 792.39 L605.00 790.27 L609.00 788.18 L613.00 786.14 L617.00 784.12 L621.00 782.15 L625.00 780.21 L629.00 778.31 L633.00 776.44 L637.00 774.60 L641.00 772.81 L645.00 771.04 L649.00 769.31 L653.00 767.62 L657.00 765.96 L661.00 764.34 L665.00 762.75 L669.00 761.19 L673.00 759.67 L677.00 758.18 L681.00 756.72 L685.00 755.29 L689.00 753.90 L693.00 752.54 L697.00 751.22 L701.00 749.92 L705.00 748.66 L709.00 747.42 L713.00 746.22 L717.00 745.05 L721.00 743.91 L725.00 742.79 L729.00 741.71 L733.00 740.65 L737.00 739.63 L741.00 738.63 L745.00 737.66 L749.00 736.71 L753.00 735.80 L757.00 734.90 L761.00 734.04 L765.00 733.20 L769.00 732.38 L773.00 731.59 L777.00 730.82 L781.00 730.08 L785.00 729.35 L789.00 728.66 L793.00 727.98 L797.00 727.32 L801.00 726.69 L805.00 726.07 L809.00 725.48 L813.00 724.90 L817.00 724.34 L821.00 723.81 L825.00 723.29 L829.00 722.78 L833.00 722.30 L837.00 721.83 L841.00 721.38 L845.00 720.94 L849.00 720.52 L853.00 720.11 L857.00 719.72 L861.00 719.34 L865.00 718.98 L869.00 718.62 L873.00 718.29 L877.00 717.96 L881.00 717.64 L885.00 717.34 L889.00 717.05 L893.00 716.77 L897.00 716.50 L901.00 716.24 L905.00 715.98 L909.00 715.74 L913.00 715.51 L917.00 715.29 L921.00 715.07 L925.00 714.87 L929.00 714.67 L933.00 714.48 L937.00 714.29 L941.00 714.12 L945.00 713.95 L949.00 713.78 L953.00 713.63 L957.00 713.48 L961.00 713.33 L965.00 713.19 L969.00 713.06 L973.00 712.93 L977.00 712.81 L981.00 712.69 L985.00 712.58 L989.00 712.47 L993.00 712.36 L997.00 712.26 L1001.00 712.17 L1005.00 712.07 L1009.00 711.98 L1013.00 711.90 L1017.00 711.82 L1021.00 711.74 L1025.00 711.66 L1029.00 711.59 L1033.00 711.52 L1037.00 711.45 L1041.00 711.39 L1045.00 711.33 L1049.00 711.27 L1053.00 711.21 L1057.00 711.16 L1061.00 711.11 L1065.00 711.06 L1069.00 711.01 L1073.00 710.97 L1077.00 710.92 L1081.00 710.88 L1085.00 710.84 L1089.00 710.80 L1093.00 710.76 L1097.00 710.73 L1101.00 710.69 L1105.00 710.66 L1109.00 710.63 L1113.00 710.60 L1117.00 710.57 L1121.00 710.54 L1125.00 710.52 L1129.00 710.49 L1133.00 710.47 L1137.00 710.44 L1141.00 710.42 L1145.00 710.40 L1149.00 710.38 L1153.00 710.36 L1157.00 710.34 L1161.00 710.32 L1165.00 710.30 L1169.00 710.29 L1173.00 710.27 L1177.00 710.26 L1181.00 710.24 L1185.00 710.23 L1189.00 710.21 L1193.00 710.20 L1197.00 710.19 L1201.00 710.18 L1205.00 710.17 L1209.00 710.16 L1213.00 710.14 L1217.00 710.13 L1221.00 710.13 L1225.00 710.12 L1229.00 710.11 L1233.00 710.10 L1237.00 710.09 L1241.00 710.08 L1245.00 710.08 L1249.00 710.07 L1253.00 710.06 L1257.00 710.06 L1261.00 710.05 L1265.00 710.04 L1269.00 710.04 L1273.00 710.03 L1277.00 710.03 L1281.00 710.02 L1285.00 710.02 L1289.00 710.01 L1293.00 710.01 L1297.00 710.00 L1301.00 710.00 L1305.00 709.99 L1309.00 709.99 L1313.00 709.99 L1317.00 709.98 L1321.00 709.98 L1325.00 709.98 L1329.00 709.97 L1333.00 709.97 L1337.00 709.97 L1341.00 709.97 L1345.00 709.96"/>
<path stroke="#000" stroke-width="6.5" d="M372.60 868.64 L373.00 868.11 L377.00 862.75 L381.00 857.44 L385.00 852.17 L389.00 846.94 L393.00 841.76 L397.00 836.62 L401.00 831.53 L405.00 826.48 L409.00 821.48 L413.00 816.52 L417.00 811.61 L421.00 806.74 L425.00 801.91 L429.00 797.13 L433.00 792.40 L437.00 787.70 L441.00 783.05 L445.00 778.45 L449.00 773.89 L453.00 769.37 L457.00 764.89 L461.00 760.45 L465.00 756.06 L469.00 751.71 L473.00 747.39 L477.00 743.12 L481.00 738.89 L485.00 734.70 L489.00 730.54 L493.00 726.43 L497.00 722.35 L501.00 718.32 L505.00 714.31 L509.00 710.35 L513.00 706.42 L517.00 702.53 L521.00 698.68 L525.00 694.85 L529.00 691.07 L533.00 687.32 L537.00 683.60 L541.00 679.92 L545.00 676.27 L549.00 672.65 L553.00 669.07 L557.00 665.52 L561.00 662.00 L565.00 658.51 L569.00 655.06 L573.00 651.64 L577.00 648.25 L581.00 644.89 L585.00 641.57 L589.00 638.28 L593.00 635.01 L597.00 631.79 L601.00 628.59 L605.00 625.42 L609.00 622.29 L613.00 619.19 L617.00 616.12 L621.00 613.08 L625.00 610.08 L629.00 607.11 L633.00 604.17 L637.00 601.27 L641.00 598.39 L645.00 595.56 L649.00 592.75 L653.00 589.98 L657.00 587.25 L661.00 584.55 L665.00 581.88 L669.00 579.25 L673.00 576.65 L677.00 574.09 L681.00 571.56 L685.00 569.08 L689.00 566.62 L693.00 564.20 L697.00 561.82 L701.00 559.48 L705.00 557.17 L709.00 554.90 L713.00 552.67 L717.00 550.47 L721.00 548.31 L725.00 546.19 L729.00 544.11 L733.00 542.06 L737.00 540.05 L741.00 538.08 L745.00 536.15 L749.00 534.25 L753.00 532.39 L757.00 530.57 L761.00 528.78 L765.00 527.03 L769.00 525.32 L773.00 523.65 L777.00 522.01 L781.00 520.41 L785.00 518.84 L789.00 517.31 L793.00 515.81 L797.00 514.35 L801.00 512.93 L805.00 511.54 L809.00 510.18 L813.00 508.86 L817.00 507.57 L821.00 506.31 L825.00 505.09 L829.00 503.90 L833.00 502.74 L837.00 501.61 L841.00 500.51 L845.00 499.44 L849.00 498.40 L853.00 497.39 L857.00 496.41 L861.00 495.46 L865.00 494.53 L869.00 493.64 L873.00 492.76 L877.00 491.92 L881.00 491.10 L885.00 490.30 L889.00 489.53 L893.00 488.79 L897.00 488.06 L901.00 487.36 L905.00 486.68 L909.00 486.02 L913.00 485.39 L917.00 484.77 L921.00 484.18 L925.00 483.60 L929.00 483.04 L933.00 482.50 L937.00 481.98 L941.00 481.48 L945.00 480.99 L949.00 480.52 L953.00 480.07 L957.00 479.63 L961.00 479.21 L965.00 478.80 L969.00 478.40 L973.00 478.02 L977.00 477.65 L981.00 477.30 L985.00 476.96 L989.00 476.63 L993.00 476.31 L997.00 476.00 L1001.00 475.70 L1005.00 475.42 L1009.00 475.14 L1013.00 474.88 L1017.00 474.62 L1021.00 474.38 L1025.00 474.14 L1029.00 473.91 L1033.00 473.69 L1037.00 473.48 L1041.00 473.27 L1045.00 473.08 L1049.00 472.89 L1053.00 472.71 L1057.00 472.53 L1061.00 472.36 L1065.00 472.20 L1069.00 472.04 L1073.00 471.89 L1077.00 471.75 L1081.00 471.61 L1085.00 471.47 L1089.00 471.34 L1093.00 471.22 L1097.00 471.10 L1101.00 470.99 L1105.00 470.88 L1109.00 470.77 L1113.00 470.67 L1117.00 470.57 L1121.00 470.48 L1125.00 470.39 L1129.00 470.30 L1133.00 470.22 L1137.00 470.14 L1141.00 470.06 L1145.00 469.98 L1149.00 469.91 L1153.00 469.84 L1157.00 469.78 L1161.00 469.72 L1165.00 469.65 L1169.00 469.60 L1173.00 469.54 L1177.00 469.49 L1181.00 469.44 L1185.00 469.39 L1189.00 469.34 L1193.00 469.29 L1197.00 469.25 L1201.00 469.21 L1205.00 469.17 L1209.00 469.13 L1213.00 469.09 L1217.00 469.06 L1221.00 469.02 L1225.00 468.99 L1229.00 468.96 L1233.00 468.93 L1237.00 468.90 L1241.00 468.87 L1245.00 468.84 L1249.00 468.82 L1253.00 468.79 L1257.00 468.77 L1261.00 468.75 L1265.00 468.73 L1269.00 468.70 L1273.00 468.68 L1277.00 468.67 L1281.00 468.65 L1285.00 468.63 L1289.00 468.61 L1293.00 468.60 L1297.00 468.58 L1301.00 468.57 L1305.00 468.55 L1309.00 468.54 L1313.00 468.53 L1317.00 468.51 L1321.00 468.50 L1325.00 468.49 L1329.00 468.48 L1333.00 468.47 L1337.00 468.46 L1341.00 468.45 L1345.00 468.44"/>
</g>
<g stroke="#000" stroke-width="4" fill="none" shape-rendering="crispEdges">
<path d="M330 1016 v-12 M330 60 v12"/>
<path d="M368 1016 v-12 M368 60 v12"/>
<path d="M395 1016 v-12 M395 60 v12"/>
<path d="M416 1016 v-12 M416 60 v12"/>
<path d="M433 1016 v-12 M433 60 v12"/>
<path d="M448 1016 v-12 M448 60 v12"/>
<path d="M460 1016 v-12 M460 60 v12"/>
<path d="M471 1016 v-12 M471 60 v12"/>
<path d="M481 1016 v-20 M481 60 v20"/>
<path d="M546 1016 v-12 M546 60 v12"/>
<path d="M584 1016 v-12 M584 60 v12"/>
<path d="M611 1016 v-12 M611 60 v12"/>
<path d="M632 1016 v-12 M632 60 v12"/>
<path d="M649 1016 v-12 M649 60 v12"/>
<path d="M664 1016 v-12 M664 60 v12"/>
<path d="M676 1016 v-12 M676 60 v12"/>
<path d="M687 1016 v-12 M687 60 v12"/>
<path d="M697 1016 v-20 M697 60 v20"/>
<path d="M762 1016 v-12 M762 60 v12"/>
<path d="M800 1016 v-12 M800 60 v12"/>
<path d="M827 1016 v-12 M827 60 v12"/>
<path d="M848 1016 v-12 M848 60 v12"/>
<path d="M865 1016 v-12 M865 60 v12"/>
<path d="M880 1016 v-12 M880 60 v12"/>
<path d="M892 1016 v-12 M892 60 v12"/>
<path d="M903 1016 v-12 M903 60 v12"/>
<path d="M913 1016 v-20 M913 60 v20"/>
<path d="M978 1016 v-12 M978 60 v12"/>
<path d="M1016 1016 v-12 M1016 60 v12"/>
<path d="M1043 1016 v-12 M1043 60 v12"/>
<path d="M1064 1016 v-12 M1064 60 v12"/>
<path d="M1081 1016 v-12 M1081 60 v12"/>
<path d="M1096 1016 v-12 M1096 60 v12"/>
<path d="M1108 1016 v-12 M1108 60 v12"/>
<path d="M1119 1016 v-12 M1119 60 v12"/>
<path d="M1129 1016 v-20 M1129 60 v20"/>
<path d="M1194 1016 v-12 M1194 60 v12"/>
<path d="M1232 1016 v-12 M1232 60 v12"/>
<path d="M1259 1016 v-12 M1259 60 v12"/>
<path d="M1280 1016 v-12 M1280 60 v12"/>
<path d="M1297 1016 v-12 M1297 60 v12"/>
<path d="M1312 1016 v-12 M1312 60 v12"/>
<path d="M1324 1016 v-12 M1324 60 v12"/>
<path d="M1335 1016 v-12 M1335 60 v12"/>
<path d="M1345 1016 v-20 M1345 60 v20"/>
<path d="M324 955 h12 M1394 955 h-12"/>
<path d="M324 897 h12 M1394 897 h-12"/>
<path d="M324 852 h12 M1394 852 h-12"/>
<path d="M324 815 h12 M1394 815 h-12"/>
<path d="M324 785 h12 M1394 785 h-12"/>
<path d="M324 758 h12 M1394 758 h-12"/>
<path d="M324 734 h12 M1394 734 h-12"/>
<path d="M324 713 h20 M1394 713 h-20"/>
<path d="M324 574 h12 M1394 574 h-12"/>
<path d="M324 493 h12 M1394 493 h-12"/>
<path d="M324 435 h12 M1394 435 h-12"/>
<path d="M324 390 h12 M1394 390 h-12"/>
<path d="M324 353 h12 M1394 353 h-12"/>
<path d="M324 323 h12 M1394 323 h-12"/>
<path d="M324 296 h12 M1394 296 h-12"/>
<path d="M324 272 h12 M1394 272 h-12"/>
<path d="M324 251 h20 M1394 251 h-20"/>
<path d="M324 112 h12 M1394 112 h-12"/>
<rect x="324" y="60" width="1070" height="956"/>
</g>
<text x="431.6" y="1089.8" font-size="58.333">10</text>
<text x="505.7" y="1067.9" font-size="40.833">1</text>
<text x="647.6" y="1089.8" font-size="58.333">10</text>
<text x="721.7" y="1067.9" font-size="40.833">2</text>
<text x="863.6" y="1089.8" font-size="58.333">10</text>
<text x="937.7" y="1067.9" font-size="40.833">3</text>
<text x="1079.6" y="1089.8" font-size="58.333">10</text>
<text x="1153.7" y="1067.9" font-size="40.833">4</text>
<text x="1295.6" y="1089.8" font-size="58.333">10</text>
<text x="1369.7" y="1067.9" font-size="40.833">5</text>
<text x="195.6" y="272.8" font-size="58.333">10</text>
<text x="269.8" y="250.9" font-size="40.833">0</text>
<text x="162.5" y="734.9" font-size="58.333">10</text>
<text x="236.6" y="713.0" font-size="40.833">−1</text>
<text x="634.4" y="1182.8" font-size="58.333">Grain size (nm)</text>
<g transform="translate(112 1016.8) rotate(-90)">
<text x="0" y="0" font-size="58.333" textLength="773.6" lengthAdjust="spacing">Thermal conductivity (Wm</text>
<text x="773.9" y="-22" font-size="40.833">−1</text>
<text x="836.1" y="0" font-size="58.333">K</text>
<text x="874.35" y="-22" font-size="40.833">−1</text>
<text x="936.5" y="0" font-size="58.333">)</text>
</g>
<rect x="349" y="85" width="270" height="214" rx="2" fill="#fff" stroke="#898989" stroke-width="2"/>
<path d="M367.7 125.4 H421.1" stroke="#00f" stroke-width="3.2" fill="none"/>
<path d="M367.7 188.5 H421.1" stroke="#f00" stroke-width="3.2" fill="none"/>
<path d="M366.1 251.7 H423.1" stroke="#000" stroke-width="6.6" fill="none"/>
<text x="439.5" y="142.6" font-size="50.0">50K</text>
<text x="439.5" y="206.0" font-size="50.0">1000K</text>
<text x="439.5" y="269.3" font-size="50.0">300K</text>
</svg></body></html>
